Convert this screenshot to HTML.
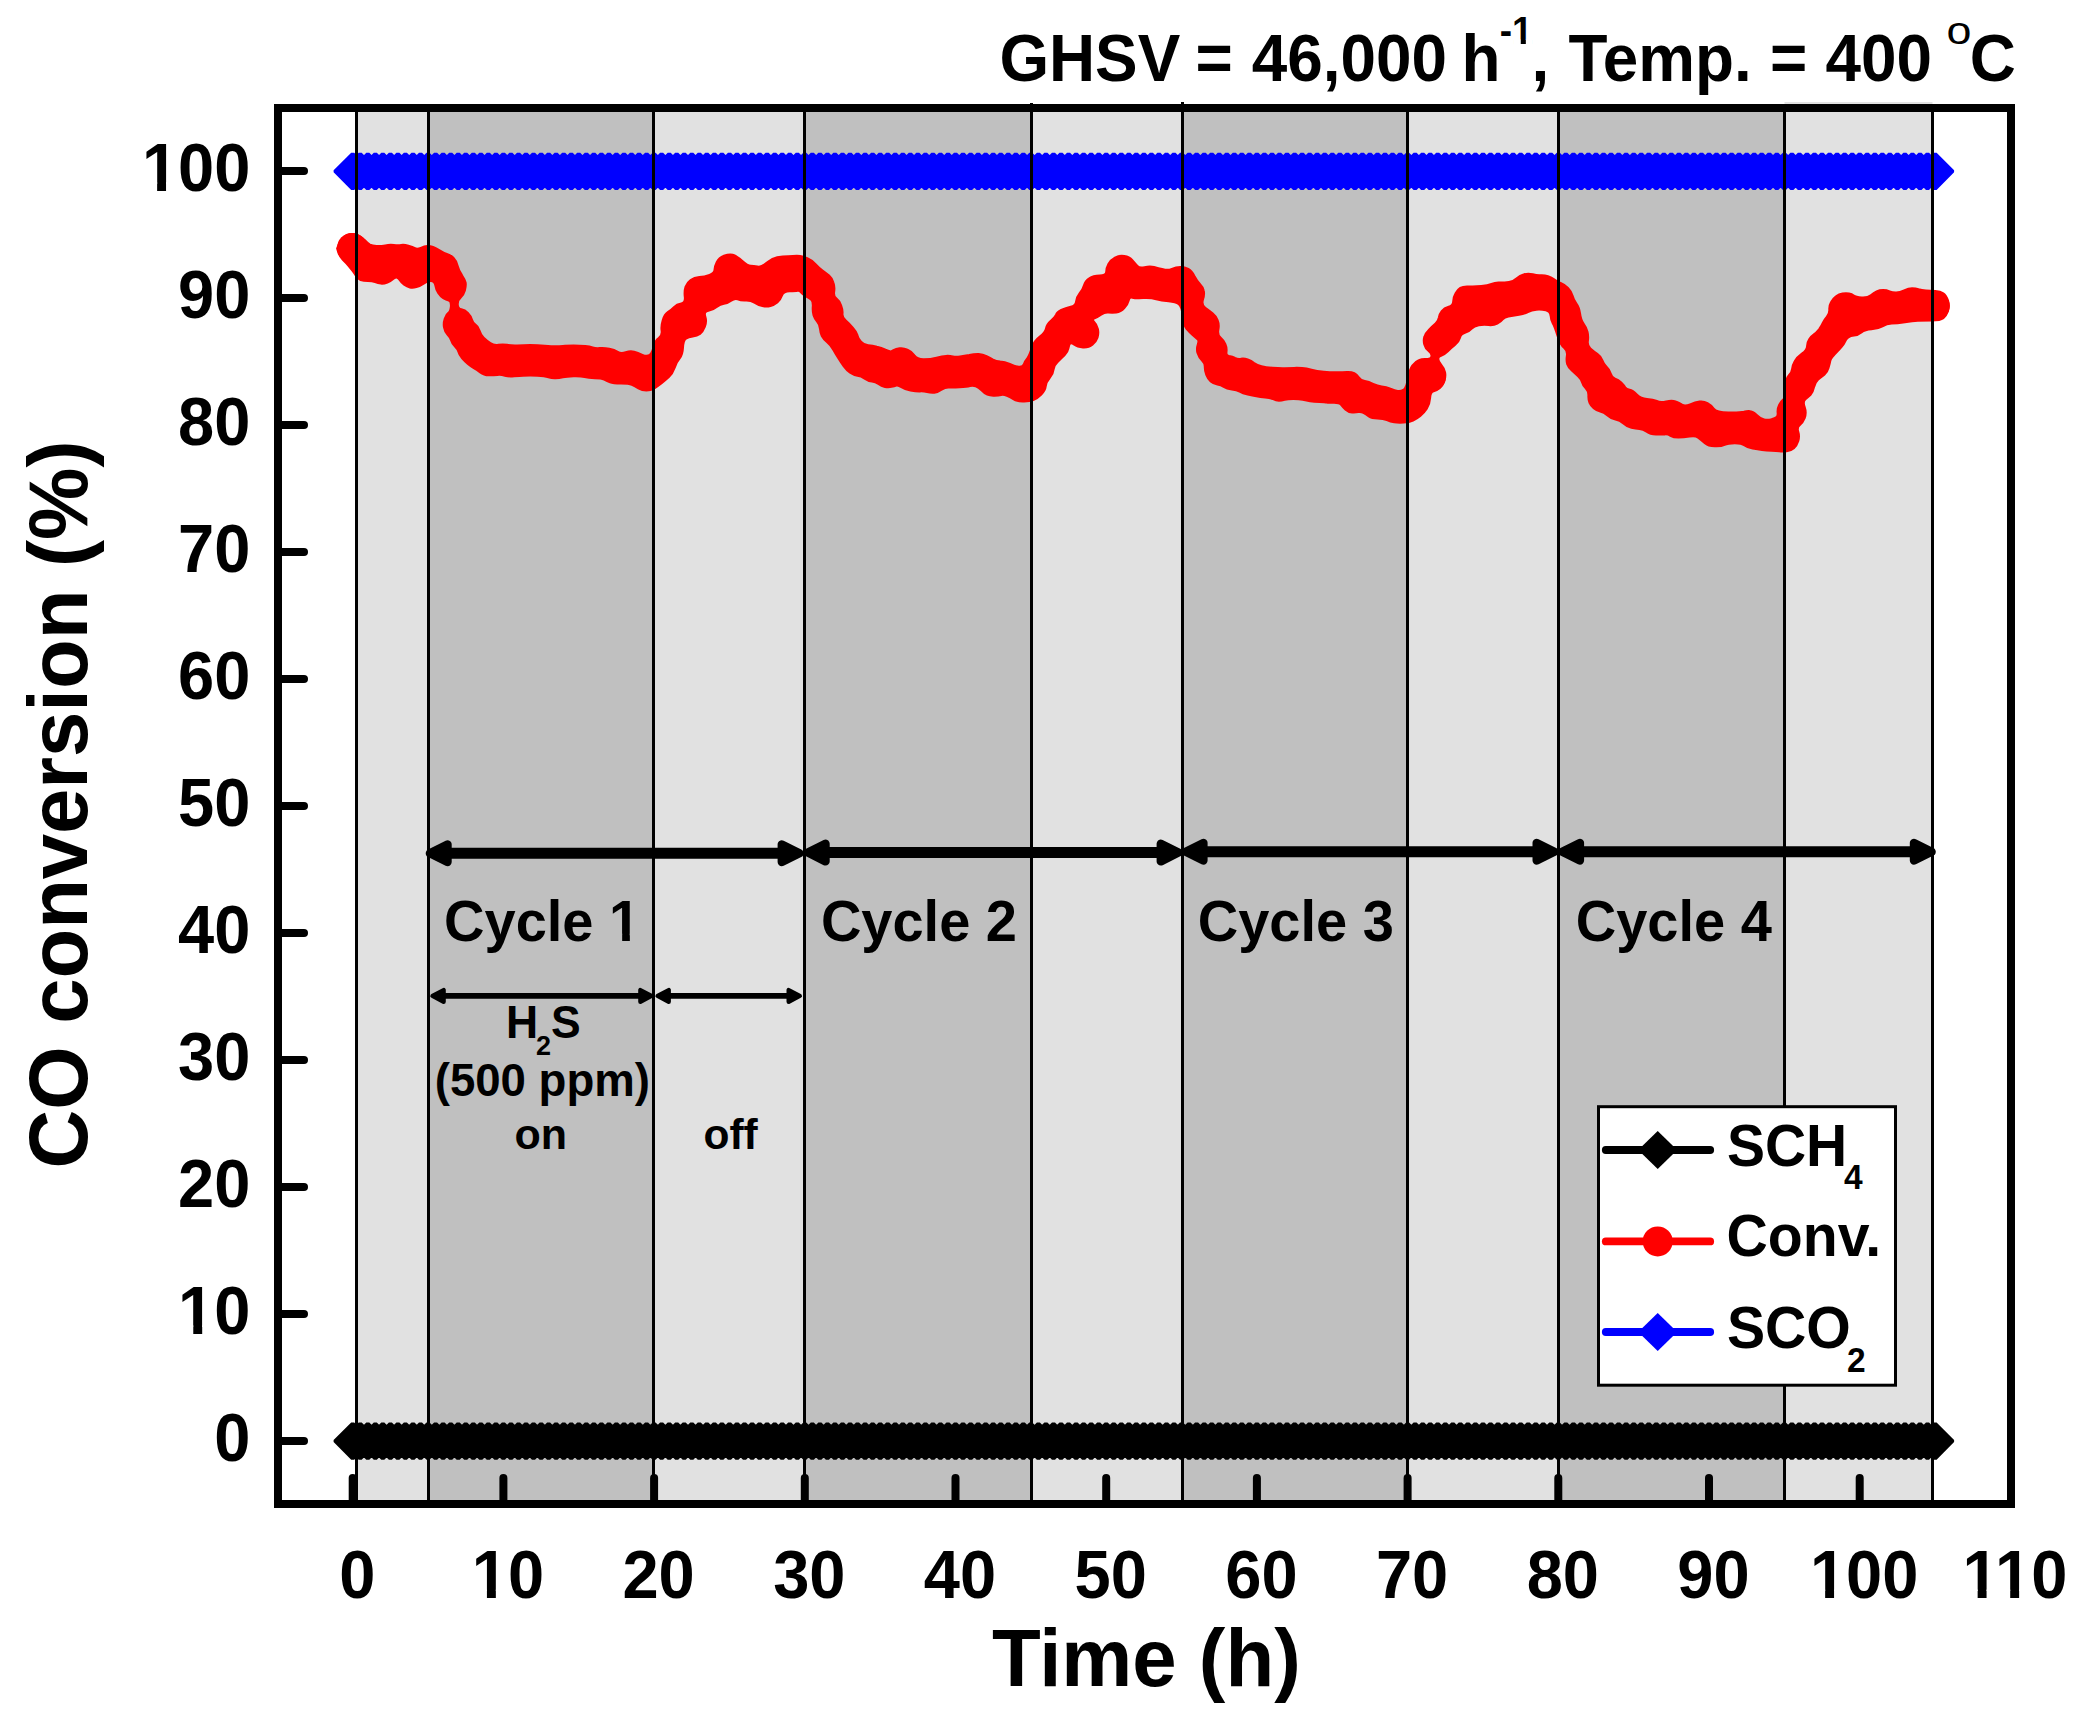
<!DOCTYPE html>
<html lang="en"><head><meta charset="utf-8"><title>CO conversion vs time</title>
<style>html,body{margin:0;padding:0;background:#fff}body{width:2090px;height:1724px;overflow:hidden}svg{display:block}</style>
</head><body>
<svg width="2090" height="1724" viewBox="0 0 2090 1724" font-family="'Liberation Sans', sans-serif" font-weight="bold" fill="#000">
<rect x="0" y="0" width="2090" height="1724" fill="#fff"/>
<g id="bands">
<rect x="356.5" y="108" width="72.0" height="1396" fill="#e1e1e1"/>
<rect x="428.5" y="108" width="225.0" height="1396" fill="#c0c0c0"/>
<rect x="653.5" y="108" width="151.0" height="1396" fill="#e1e1e1"/>
<rect x="804.5" y="108" width="227.0" height="1396" fill="#c0c0c0"/>
<rect x="1031.5" y="108" width="151.0" height="1396" fill="#e1e1e1"/>
<rect x="1182.5" y="108" width="225.0" height="1396" fill="#c0c0c0"/>
<rect x="1407.5" y="108" width="151.0" height="1396" fill="#e1e1e1"/>
<rect x="1558.5" y="108" width="226.0" height="1396" fill="#c0c0c0"/>
<rect x="1784.5" y="102" width="148.0" height="1402" fill="#e1e1e1"/>
</g>
<g id="ticks" stroke="#000" stroke-width="8" stroke-linecap="round">
<line x1="352.7" y1="1500" x2="352.7" y2="1478"/>
<line x1="503.4" y1="1500" x2="503.4" y2="1478"/>
<line x1="654.1" y1="1500" x2="654.1" y2="1478"/>
<line x1="804.8" y1="1500" x2="804.8" y2="1478"/>
<line x1="955.5" y1="1500" x2="955.5" y2="1478"/>
<line x1="1106.2" y1="1500" x2="1106.2" y2="1478"/>
<line x1="1256.9" y1="1500" x2="1256.9" y2="1478"/>
<line x1="1407.6" y1="1500" x2="1407.6" y2="1478"/>
<line x1="1558.3" y1="1500" x2="1558.3" y2="1478"/>
<line x1="1709.0" y1="1500" x2="1709.0" y2="1478"/>
<line x1="1859.7" y1="1500" x2="1859.7" y2="1478"/>
<line x1="282" y1="1441.1" x2="304" y2="1441.1"/>
<line x1="282" y1="1314.1" x2="304" y2="1314.1"/>
<line x1="282" y1="1187.1" x2="304" y2="1187.1"/>
<line x1="282" y1="1060.0" x2="304" y2="1060.0"/>
<line x1="282" y1="933.0" x2="304" y2="933.0"/>
<line x1="282" y1="806.0" x2="304" y2="806.0"/>
<line x1="282" y1="679.0" x2="304" y2="679.0"/>
<line x1="282" y1="552.0" x2="304" y2="552.0"/>
<line x1="282" y1="424.9" x2="304" y2="424.9"/>
<line x1="282" y1="297.9" x2="304" y2="297.9"/>
<line x1="282" y1="170.9" x2="304" y2="170.9"/>
</g>
<g fill="#000" stroke="#000">
<line x1="352.7" y1="1441.0" x2="1935.1" y2="1441.0" stroke-width="8"/>
<path stroke="none" d="M333.6 1440.0L351.2 1422.4L354.2 1422.4L371.8 1440.0L371.8 1442.0L354.2 1459.7L351.2 1459.7L333.6 1442.0ZM341.2 1440.0L358.7 1422.4L361.7 1422.4L379.3 1440.0L379.3 1442.0L361.7 1459.7L358.7 1459.7L341.2 1442.0ZM348.7 1440.0L366.3 1422.4L369.3 1422.4L386.8 1440.0L386.8 1442.0L369.3 1459.7L366.3 1459.7L348.7 1442.0ZM356.3 1440.0L373.8 1422.4L376.8 1422.4L394.4 1440.0L394.4 1442.0L376.8 1459.7L373.8 1459.7L356.3 1442.0ZM363.8 1440.0L381.3 1422.4L384.3 1422.4L401.9 1440.0L401.9 1442.0L384.3 1459.7L381.3 1459.7L363.8 1442.0ZM371.3 1440.0L388.9 1422.4L391.9 1422.4L409.4 1440.0L409.4 1442.0L391.9 1459.7L388.9 1459.7L371.3 1442.0ZM378.9 1440.0L396.4 1422.4L399.4 1422.4L417.0 1440.0L417.0 1442.0L399.4 1459.7L396.4 1459.7L378.9 1442.0ZM386.4 1440.0L403.9 1422.4L406.9 1422.4L424.5 1440.0L424.5 1442.0L406.9 1459.7L403.9 1459.7L386.4 1442.0ZM393.9 1440.0L411.5 1422.4L414.5 1422.4L432.0 1440.0L432.0 1442.0L414.5 1459.7L411.5 1459.7L393.9 1442.0ZM401.5 1440.0L419.0 1422.4L422.0 1422.4L439.6 1440.0L439.6 1442.0L422.0 1459.7L419.0 1459.7L401.5 1442.0ZM409.0 1440.0L426.5 1422.4L429.5 1422.4L447.1 1440.0L447.1 1442.0L429.5 1459.7L426.5 1459.7L409.0 1442.0ZM416.5 1440.0L434.1 1422.4L437.1 1422.4L454.6 1440.0L454.6 1442.0L437.1 1459.7L434.1 1459.7L416.5 1442.0ZM424.1 1440.0L441.6 1422.4L444.6 1422.4L462.2 1440.0L462.2 1442.0L444.6 1459.7L441.6 1459.7L424.1 1442.0ZM431.6 1440.0L449.2 1422.4L452.2 1422.4L469.7 1440.0L469.7 1442.0L452.2 1459.7L449.2 1459.7L431.6 1442.0ZM439.1 1440.0L456.7 1422.4L459.7 1422.4L477.2 1440.0L477.2 1442.0L459.7 1459.7L456.7 1459.7L439.1 1442.0ZM446.7 1440.0L464.2 1422.4L467.2 1422.4L484.8 1440.0L484.8 1442.0L467.2 1459.7L464.2 1459.7L446.7 1442.0ZM454.2 1440.0L471.8 1422.4L474.8 1422.4L492.3 1440.0L492.3 1442.0L474.8 1459.7L471.8 1459.7L454.2 1442.0ZM461.7 1440.0L479.3 1422.4L482.3 1422.4L499.8 1440.0L499.8 1442.0L482.3 1459.7L479.3 1459.7L461.7 1442.0ZM469.3 1440.0L486.8 1422.4L489.8 1422.4L507.4 1440.0L507.4 1442.0L489.8 1459.7L486.8 1459.7L469.3 1442.0ZM476.8 1440.0L494.4 1422.4L497.4 1422.4L514.9 1440.0L514.9 1442.0L497.4 1459.7L494.4 1459.7L476.8 1442.0ZM484.3 1440.0L501.9 1422.4L504.9 1422.4L522.4 1440.0L522.4 1442.0L504.9 1459.7L501.9 1459.7L484.3 1442.0ZM491.9 1440.0L509.4 1422.4L512.4 1422.4L530.0 1440.0L530.0 1442.0L512.4 1459.7L509.4 1459.7L491.9 1442.0ZM499.4 1440.0L517.0 1422.4L520.0 1422.4L537.5 1440.0L537.5 1442.0L520.0 1459.7L517.0 1459.7L499.4 1442.0ZM507.0 1440.0L524.5 1422.4L527.5 1422.4L545.1 1440.0L545.1 1442.0L527.5 1459.7L524.5 1459.7L507.0 1442.0ZM514.5 1440.0L532.0 1422.4L535.0 1422.4L552.6 1440.0L552.6 1442.0L535.0 1459.7L532.0 1459.7L514.5 1442.0ZM522.0 1440.0L539.6 1422.4L542.6 1422.4L560.1 1440.0L560.1 1442.0L542.6 1459.7L539.6 1459.7L522.0 1442.0ZM529.6 1440.0L547.1 1422.4L550.1 1422.4L567.7 1440.0L567.7 1442.0L550.1 1459.7L547.1 1459.7L529.6 1442.0ZM537.1 1440.0L554.6 1422.4L557.6 1422.4L575.2 1440.0L575.2 1442.0L557.6 1459.7L554.6 1459.7L537.1 1442.0ZM544.6 1440.0L562.2 1422.4L565.2 1422.4L582.7 1440.0L582.7 1442.0L565.2 1459.7L562.2 1459.7L544.6 1442.0ZM552.2 1440.0L569.7 1422.4L572.7 1422.4L590.3 1440.0L590.3 1442.0L572.7 1459.7L569.7 1459.7L552.2 1442.0ZM559.7 1440.0L577.2 1422.4L580.2 1422.4L597.8 1440.0L597.8 1442.0L580.2 1459.7L577.2 1459.7L559.7 1442.0ZM567.2 1440.0L584.8 1422.4L587.8 1422.4L605.3 1440.0L605.3 1442.0L587.8 1459.7L584.8 1459.7L567.2 1442.0ZM574.8 1440.0L592.3 1422.4L595.3 1422.4L612.9 1440.0L612.9 1442.0L595.3 1459.7L592.3 1459.7L574.8 1442.0ZM582.3 1440.0L599.9 1422.4L602.9 1422.4L620.4 1440.0L620.4 1442.0L602.9 1459.7L599.9 1459.7L582.3 1442.0ZM589.8 1440.0L607.4 1422.4L610.4 1422.4L627.9 1440.0L627.9 1442.0L610.4 1459.7L607.4 1459.7L589.8 1442.0ZM597.4 1440.0L614.9 1422.4L617.9 1422.4L635.5 1440.0L635.5 1442.0L617.9 1459.7L614.9 1459.7L597.4 1442.0ZM604.9 1440.0L622.5 1422.4L625.5 1422.4L643.0 1440.0L643.0 1442.0L625.5 1459.7L622.5 1459.7L604.9 1442.0ZM612.4 1440.0L630.0 1422.4L633.0 1422.4L650.5 1440.0L650.5 1442.0L633.0 1459.7L630.0 1459.7L612.4 1442.0ZM620.0 1440.0L637.5 1422.4L640.5 1422.4L658.1 1440.0L658.1 1442.0L640.5 1459.7L637.5 1459.7L620.0 1442.0ZM627.5 1440.0L645.1 1422.4L648.1 1422.4L665.6 1440.0L665.6 1442.0L648.1 1459.7L645.1 1459.7L627.5 1442.0ZM635.0 1440.0L652.6 1422.4L655.6 1422.4L673.1 1440.0L673.1 1442.0L655.6 1459.7L652.6 1459.7L635.0 1442.0ZM642.6 1440.0L660.1 1422.4L663.1 1422.4L680.7 1440.0L680.7 1442.0L663.1 1459.7L660.1 1459.7L642.6 1442.0ZM650.1 1440.0L667.7 1422.4L670.7 1422.4L688.2 1440.0L688.2 1442.0L670.7 1459.7L667.7 1459.7L650.1 1442.0ZM657.7 1440.0L675.2 1422.4L678.2 1422.4L695.8 1440.0L695.8 1442.0L678.2 1459.7L675.2 1459.7L657.7 1442.0ZM665.2 1440.0L682.7 1422.4L685.7 1422.4L703.3 1440.0L703.3 1442.0L685.7 1459.7L682.7 1459.7L665.2 1442.0ZM672.7 1440.0L690.3 1422.4L693.3 1422.4L710.8 1440.0L710.8 1442.0L693.3 1459.7L690.3 1459.7L672.7 1442.0ZM680.3 1440.0L697.8 1422.4L700.8 1422.4L718.4 1440.0L718.4 1442.0L700.8 1459.7L697.8 1459.7L680.3 1442.0ZM687.8 1440.0L705.3 1422.4L708.3 1422.4L725.9 1440.0L725.9 1442.0L708.3 1459.7L705.3 1459.7L687.8 1442.0ZM695.3 1440.0L712.9 1422.4L715.9 1422.4L733.4 1440.0L733.4 1442.0L715.9 1459.7L712.9 1459.7L695.3 1442.0ZM702.9 1440.0L720.4 1422.4L723.4 1422.4L741.0 1440.0L741.0 1442.0L723.4 1459.7L720.4 1459.7L702.9 1442.0ZM710.4 1440.0L728.0 1422.4L731.0 1422.4L748.5 1440.0L748.5 1442.0L731.0 1459.7L728.0 1459.7L710.4 1442.0ZM717.9 1440.0L735.5 1422.4L738.5 1422.4L756.0 1440.0L756.0 1442.0L738.5 1459.7L735.5 1459.7L717.9 1442.0ZM725.5 1440.0L743.0 1422.4L746.0 1422.4L763.6 1440.0L763.6 1442.0L746.0 1459.7L743.0 1459.7L725.5 1442.0ZM733.0 1440.0L750.6 1422.4L753.6 1422.4L771.1 1440.0L771.1 1442.0L753.6 1459.7L750.6 1459.7L733.0 1442.0ZM740.5 1440.0L758.1 1422.4L761.1 1422.4L778.6 1440.0L778.6 1442.0L761.1 1459.7L758.1 1459.7L740.5 1442.0ZM748.1 1440.0L765.6 1422.4L768.6 1422.4L786.2 1440.0L786.2 1442.0L768.6 1459.7L765.6 1459.7L748.1 1442.0ZM755.6 1440.0L773.2 1422.4L776.2 1422.4L793.7 1440.0L793.7 1442.0L776.2 1459.7L773.2 1459.7L755.6 1442.0ZM763.1 1440.0L780.7 1422.4L783.7 1422.4L801.2 1440.0L801.2 1442.0L783.7 1459.7L780.7 1459.7L763.1 1442.0ZM770.7 1440.0L788.2 1422.4L791.2 1422.4L808.8 1440.0L808.8 1442.0L791.2 1459.7L788.2 1459.7L770.7 1442.0ZM778.2 1440.0L795.8 1422.4L798.8 1422.4L816.3 1440.0L816.3 1442.0L798.8 1459.7L795.8 1459.7L778.2 1442.0ZM785.8 1440.0L803.3 1422.4L806.3 1422.4L823.8 1440.0L823.8 1442.0L806.3 1459.7L803.3 1459.7L785.8 1442.0ZM793.3 1440.0L810.8 1422.4L813.8 1422.4L831.4 1440.0L831.4 1442.0L813.8 1459.7L810.8 1459.7L793.3 1442.0ZM800.8 1440.0L818.4 1422.4L821.4 1422.4L838.9 1440.0L838.9 1442.0L821.4 1459.7L818.4 1459.7L800.8 1442.0ZM808.4 1440.0L825.9 1422.4L828.9 1422.4L846.5 1440.0L846.5 1442.0L828.9 1459.7L825.9 1459.7L808.4 1442.0ZM815.9 1440.0L833.4 1422.4L836.4 1422.4L854.0 1440.0L854.0 1442.0L836.4 1459.7L833.4 1459.7L815.9 1442.0ZM823.4 1440.0L841.0 1422.4L844.0 1422.4L861.5 1440.0L861.5 1442.0L844.0 1459.7L841.0 1459.7L823.4 1442.0ZM831.0 1440.0L848.5 1422.4L851.5 1422.4L869.1 1440.0L869.1 1442.0L851.5 1459.7L848.5 1459.7L831.0 1442.0ZM838.5 1440.0L856.0 1422.4L859.0 1422.4L876.6 1440.0L876.6 1442.0L859.0 1459.7L856.0 1459.7L838.5 1442.0ZM846.0 1440.0L863.6 1422.4L866.6 1422.4L884.1 1440.0L884.1 1442.0L866.6 1459.7L863.6 1459.7L846.0 1442.0ZM853.6 1440.0L871.1 1422.4L874.1 1422.4L891.7 1440.0L891.7 1442.0L874.1 1459.7L871.1 1459.7L853.6 1442.0ZM861.1 1440.0L878.7 1422.4L881.7 1422.4L899.2 1440.0L899.2 1442.0L881.7 1459.7L878.7 1459.7L861.1 1442.0ZM868.6 1440.0L886.2 1422.4L889.2 1422.4L906.7 1440.0L906.7 1442.0L889.2 1459.7L886.2 1459.7L868.6 1442.0ZM876.2 1440.0L893.7 1422.4L896.7 1422.4L914.3 1440.0L914.3 1442.0L896.7 1459.7L893.7 1459.7L876.2 1442.0ZM883.7 1440.0L901.3 1422.4L904.3 1422.4L921.8 1440.0L921.8 1442.0L904.3 1459.7L901.3 1459.7L883.7 1442.0ZM891.2 1440.0L908.8 1422.4L911.8 1422.4L929.3 1440.0L929.3 1442.0L911.8 1459.7L908.8 1459.7L891.2 1442.0ZM898.8 1440.0L916.3 1422.4L919.3 1422.4L936.9 1440.0L936.9 1442.0L919.3 1459.7L916.3 1459.7L898.8 1442.0ZM906.3 1440.0L923.9 1422.4L926.9 1422.4L944.4 1440.0L944.4 1442.0L926.9 1459.7L923.9 1459.7L906.3 1442.0ZM913.8 1440.0L931.4 1422.4L934.4 1422.4L951.9 1440.0L951.9 1442.0L934.4 1459.7L931.4 1459.7L913.8 1442.0ZM921.4 1440.0L938.9 1422.4L941.9 1422.4L959.5 1440.0L959.5 1442.0L941.9 1459.7L938.9 1459.7L921.4 1442.0ZM928.9 1440.0L946.5 1422.4L949.5 1422.4L967.0 1440.0L967.0 1442.0L949.5 1459.7L946.5 1459.7L928.9 1442.0ZM936.5 1440.0L954.0 1422.4L957.0 1422.4L974.5 1440.0L974.5 1442.0L957.0 1459.7L954.0 1459.7L936.5 1442.0ZM944.0 1440.0L961.5 1422.4L964.5 1422.4L982.1 1440.0L982.1 1442.0L964.5 1459.7L961.5 1459.7L944.0 1442.0ZM951.5 1440.0L969.1 1422.4L972.1 1422.4L989.6 1440.0L989.6 1442.0L972.1 1459.7L969.1 1459.7L951.5 1442.0ZM959.1 1440.0L976.6 1422.4L979.6 1422.4L997.2 1440.0L997.2 1442.0L979.6 1459.7L976.6 1459.7L959.1 1442.0ZM966.6 1440.0L984.1 1422.4L987.1 1422.4L1004.7 1440.0L1004.7 1442.0L987.1 1459.7L984.1 1459.7L966.6 1442.0ZM974.1 1440.0L991.7 1422.4L994.7 1422.4L1012.2 1440.0L1012.2 1442.0L994.7 1459.7L991.7 1459.7L974.1 1442.0ZM981.7 1440.0L999.2 1422.4L1002.2 1422.4L1019.8 1440.0L1019.8 1442.0L1002.2 1459.7L999.2 1459.7L981.7 1442.0ZM989.2 1440.0L1006.7 1422.4L1009.7 1422.4L1027.3 1440.0L1027.3 1442.0L1009.7 1459.7L1006.7 1459.7L989.2 1442.0ZM996.7 1440.0L1014.3 1422.4L1017.3 1422.4L1034.8 1440.0L1034.8 1442.0L1017.3 1459.7L1014.3 1459.7L996.7 1442.0ZM1004.3 1440.0L1021.8 1422.4L1024.8 1422.4L1042.4 1440.0L1042.4 1442.0L1024.8 1459.7L1021.8 1459.7L1004.3 1442.0ZM1011.8 1440.0L1029.3 1422.4L1032.3 1422.4L1049.9 1440.0L1049.9 1442.0L1032.3 1459.7L1029.3 1459.7L1011.8 1442.0ZM1019.3 1440.0L1036.9 1422.4L1039.9 1422.4L1057.4 1440.0L1057.4 1442.0L1039.9 1459.7L1036.9 1459.7L1019.3 1442.0ZM1026.9 1440.0L1044.4 1422.4L1047.4 1422.4L1065.0 1440.0L1065.0 1442.0L1047.4 1459.7L1044.4 1459.7L1026.9 1442.0ZM1034.4 1440.0L1052.0 1422.4L1055.0 1422.4L1072.5 1440.0L1072.5 1442.0L1055.0 1459.7L1052.0 1459.7L1034.4 1442.0ZM1041.9 1440.0L1059.5 1422.4L1062.5 1422.4L1080.0 1440.0L1080.0 1442.0L1062.5 1459.7L1059.5 1459.7L1041.9 1442.0ZM1049.5 1440.0L1067.0 1422.4L1070.0 1422.4L1087.6 1440.0L1087.6 1442.0L1070.0 1459.7L1067.0 1459.7L1049.5 1442.0ZM1057.0 1440.0L1074.6 1422.4L1077.6 1422.4L1095.1 1440.0L1095.1 1442.0L1077.6 1459.7L1074.6 1459.7L1057.0 1442.0ZM1064.5 1440.0L1082.1 1422.4L1085.1 1422.4L1102.6 1440.0L1102.6 1442.0L1085.1 1459.7L1082.1 1459.7L1064.5 1442.0ZM1072.1 1440.0L1089.6 1422.4L1092.6 1422.4L1110.2 1440.0L1110.2 1442.0L1092.6 1459.7L1089.6 1459.7L1072.1 1442.0ZM1079.6 1440.0L1097.2 1422.4L1100.2 1422.4L1117.7 1440.0L1117.7 1442.0L1100.2 1459.7L1097.2 1459.7L1079.6 1442.0ZM1087.2 1440.0L1104.7 1422.4L1107.7 1422.4L1125.2 1440.0L1125.2 1442.0L1107.7 1459.7L1104.7 1459.7L1087.2 1442.0ZM1094.7 1440.0L1112.2 1422.4L1115.2 1422.4L1132.8 1440.0L1132.8 1442.0L1115.2 1459.7L1112.2 1459.7L1094.7 1442.0ZM1102.2 1440.0L1119.8 1422.4L1122.8 1422.4L1140.3 1440.0L1140.3 1442.0L1122.8 1459.7L1119.8 1459.7L1102.2 1442.0ZM1109.8 1440.0L1127.3 1422.4L1130.3 1422.4L1147.9 1440.0L1147.9 1442.0L1130.3 1459.7L1127.3 1459.7L1109.8 1442.0ZM1117.3 1440.0L1134.8 1422.4L1137.8 1422.4L1155.4 1440.0L1155.4 1442.0L1137.8 1459.7L1134.8 1459.7L1117.3 1442.0ZM1124.8 1440.0L1142.4 1422.4L1145.4 1422.4L1162.9 1440.0L1162.9 1442.0L1145.4 1459.7L1142.4 1459.7L1124.8 1442.0ZM1132.4 1440.0L1149.9 1422.4L1152.9 1422.4L1170.5 1440.0L1170.5 1442.0L1152.9 1459.7L1149.9 1459.7L1132.4 1442.0ZM1139.9 1440.0L1157.4 1422.4L1160.4 1422.4L1178.0 1440.0L1178.0 1442.0L1160.4 1459.7L1157.4 1459.7L1139.9 1442.0ZM1147.4 1440.0L1165.0 1422.4L1168.0 1422.4L1185.5 1440.0L1185.5 1442.0L1168.0 1459.7L1165.0 1459.7L1147.4 1442.0ZM1155.0 1440.0L1172.5 1422.4L1175.5 1422.4L1193.1 1440.0L1193.1 1442.0L1175.5 1459.7L1172.5 1459.7L1155.0 1442.0ZM1162.5 1440.0L1180.0 1422.4L1183.0 1422.4L1200.6 1440.0L1200.6 1442.0L1183.0 1459.7L1180.0 1459.7L1162.5 1442.0ZM1170.0 1440.0L1187.6 1422.4L1190.6 1422.4L1208.1 1440.0L1208.1 1442.0L1190.6 1459.7L1187.6 1459.7L1170.0 1442.0ZM1177.6 1440.0L1195.1 1422.4L1198.1 1422.4L1215.7 1440.0L1215.7 1442.0L1198.1 1459.7L1195.1 1459.7L1177.6 1442.0ZM1185.1 1440.0L1202.7 1422.4L1205.7 1422.4L1223.2 1440.0L1223.2 1442.0L1205.7 1459.7L1202.7 1459.7L1185.1 1442.0ZM1192.6 1440.0L1210.2 1422.4L1213.2 1422.4L1230.7 1440.0L1230.7 1442.0L1213.2 1459.7L1210.2 1459.7L1192.6 1442.0ZM1200.2 1440.0L1217.7 1422.4L1220.7 1422.4L1238.3 1440.0L1238.3 1442.0L1220.7 1459.7L1217.7 1459.7L1200.2 1442.0ZM1207.7 1440.0L1225.3 1422.4L1228.3 1422.4L1245.8 1440.0L1245.8 1442.0L1228.3 1459.7L1225.3 1459.7L1207.7 1442.0ZM1215.2 1440.0L1232.8 1422.4L1235.8 1422.4L1253.3 1440.0L1253.3 1442.0L1235.8 1459.7L1232.8 1459.7L1215.2 1442.0ZM1222.8 1440.0L1240.3 1422.4L1243.3 1422.4L1260.9 1440.0L1260.9 1442.0L1243.3 1459.7L1240.3 1459.7L1222.8 1442.0ZM1230.3 1440.0L1247.9 1422.4L1250.9 1422.4L1268.4 1440.0L1268.4 1442.0L1250.9 1459.7L1247.9 1459.7L1230.3 1442.0ZM1237.9 1440.0L1255.4 1422.4L1258.4 1422.4L1276.0 1440.0L1276.0 1442.0L1258.4 1459.7L1255.4 1459.7L1237.9 1442.0ZM1245.4 1440.0L1262.9 1422.4L1265.9 1422.4L1283.5 1440.0L1283.5 1442.0L1265.9 1459.7L1262.9 1459.7L1245.4 1442.0ZM1252.9 1440.0L1270.5 1422.4L1273.5 1422.4L1291.0 1440.0L1291.0 1442.0L1273.5 1459.7L1270.5 1459.7L1252.9 1442.0ZM1260.5 1440.0L1278.0 1422.4L1281.0 1422.4L1298.6 1440.0L1298.6 1442.0L1281.0 1459.7L1278.0 1459.7L1260.5 1442.0ZM1268.0 1440.0L1285.5 1422.4L1288.5 1422.4L1306.1 1440.0L1306.1 1442.0L1288.5 1459.7L1285.5 1459.7L1268.0 1442.0ZM1275.5 1440.0L1293.1 1422.4L1296.1 1422.4L1313.6 1440.0L1313.6 1442.0L1296.1 1459.7L1293.1 1459.7L1275.5 1442.0ZM1283.1 1440.0L1300.6 1422.4L1303.6 1422.4L1321.2 1440.0L1321.2 1442.0L1303.6 1459.7L1300.6 1459.7L1283.1 1442.0ZM1290.6 1440.0L1308.1 1422.4L1311.1 1422.4L1328.7 1440.0L1328.7 1442.0L1311.1 1459.7L1308.1 1459.7L1290.6 1442.0ZM1298.1 1440.0L1315.7 1422.4L1318.7 1422.4L1336.2 1440.0L1336.2 1442.0L1318.7 1459.7L1315.7 1459.7L1298.1 1442.0ZM1305.7 1440.0L1323.2 1422.4L1326.2 1422.4L1343.8 1440.0L1343.8 1442.0L1326.2 1459.7L1323.2 1459.7L1305.7 1442.0ZM1313.2 1440.0L1330.8 1422.4L1333.8 1422.4L1351.3 1440.0L1351.3 1442.0L1333.8 1459.7L1330.8 1459.7L1313.2 1442.0ZM1320.7 1440.0L1338.3 1422.4L1341.3 1422.4L1358.8 1440.0L1358.8 1442.0L1341.3 1459.7L1338.3 1459.7L1320.7 1442.0ZM1328.3 1440.0L1345.8 1422.4L1348.8 1422.4L1366.4 1440.0L1366.4 1442.0L1348.8 1459.7L1345.8 1459.7L1328.3 1442.0ZM1335.8 1440.0L1353.4 1422.4L1356.4 1422.4L1373.9 1440.0L1373.9 1442.0L1356.4 1459.7L1353.4 1459.7L1335.8 1442.0ZM1343.3 1440.0L1360.9 1422.4L1363.9 1422.4L1381.4 1440.0L1381.4 1442.0L1363.9 1459.7L1360.9 1459.7L1343.3 1442.0ZM1350.9 1440.0L1368.4 1422.4L1371.4 1422.4L1389.0 1440.0L1389.0 1442.0L1371.4 1459.7L1368.4 1459.7L1350.9 1442.0ZM1358.4 1440.0L1376.0 1422.4L1379.0 1422.4L1396.5 1440.0L1396.5 1442.0L1379.0 1459.7L1376.0 1459.7L1358.4 1442.0ZM1365.9 1440.0L1383.5 1422.4L1386.5 1422.4L1404.0 1440.0L1404.0 1442.0L1386.5 1459.7L1383.5 1459.7L1365.9 1442.0ZM1373.5 1440.0L1391.0 1422.4L1394.0 1422.4L1411.6 1440.0L1411.6 1442.0L1394.0 1459.7L1391.0 1459.7L1373.5 1442.0ZM1381.0 1440.0L1398.6 1422.4L1401.6 1422.4L1419.1 1440.0L1419.1 1442.0L1401.6 1459.7L1398.6 1459.7L1381.0 1442.0ZM1388.6 1440.0L1406.1 1422.4L1409.1 1422.4L1426.7 1440.0L1426.7 1442.0L1409.1 1459.7L1406.1 1459.7L1388.6 1442.0ZM1396.1 1440.0L1413.6 1422.4L1416.6 1422.4L1434.2 1440.0L1434.2 1442.0L1416.6 1459.7L1413.6 1459.7L1396.1 1442.0ZM1403.6 1440.0L1421.2 1422.4L1424.2 1422.4L1441.7 1440.0L1441.7 1442.0L1424.2 1459.7L1421.2 1459.7L1403.6 1442.0ZM1411.2 1440.0L1428.7 1422.4L1431.7 1422.4L1449.3 1440.0L1449.3 1442.0L1431.7 1459.7L1428.7 1459.7L1411.2 1442.0ZM1418.7 1440.0L1436.2 1422.4L1439.2 1422.4L1456.8 1440.0L1456.8 1442.0L1439.2 1459.7L1436.2 1459.7L1418.7 1442.0ZM1426.2 1440.0L1443.8 1422.4L1446.8 1422.4L1464.3 1440.0L1464.3 1442.0L1446.8 1459.7L1443.8 1459.7L1426.2 1442.0ZM1433.8 1440.0L1451.3 1422.4L1454.3 1422.4L1471.9 1440.0L1471.9 1442.0L1454.3 1459.7L1451.3 1459.7L1433.8 1442.0ZM1441.3 1440.0L1458.8 1422.4L1461.8 1422.4L1479.4 1440.0L1479.4 1442.0L1461.8 1459.7L1458.8 1459.7L1441.3 1442.0ZM1448.8 1440.0L1466.4 1422.4L1469.4 1422.4L1486.9 1440.0L1486.9 1442.0L1469.4 1459.7L1466.4 1459.7L1448.8 1442.0ZM1456.4 1440.0L1473.9 1422.4L1476.9 1422.4L1494.5 1440.0L1494.5 1442.0L1476.9 1459.7L1473.9 1459.7L1456.4 1442.0ZM1463.9 1440.0L1481.5 1422.4L1484.5 1422.4L1502.0 1440.0L1502.0 1442.0L1484.5 1459.7L1481.5 1459.7L1463.9 1442.0ZM1471.4 1440.0L1489.0 1422.4L1492.0 1422.4L1509.5 1440.0L1509.5 1442.0L1492.0 1459.7L1489.0 1459.7L1471.4 1442.0ZM1479.0 1440.0L1496.5 1422.4L1499.5 1422.4L1517.1 1440.0L1517.1 1442.0L1499.5 1459.7L1496.5 1459.7L1479.0 1442.0ZM1486.5 1440.0L1504.1 1422.4L1507.1 1422.4L1524.6 1440.0L1524.6 1442.0L1507.1 1459.7L1504.1 1459.7L1486.5 1442.0ZM1494.0 1440.0L1511.6 1422.4L1514.6 1422.4L1532.1 1440.0L1532.1 1442.0L1514.6 1459.7L1511.6 1459.7L1494.0 1442.0ZM1501.6 1440.0L1519.1 1422.4L1522.1 1422.4L1539.7 1440.0L1539.7 1442.0L1522.1 1459.7L1519.1 1459.7L1501.6 1442.0ZM1509.1 1440.0L1526.7 1422.4L1529.7 1422.4L1547.2 1440.0L1547.2 1442.0L1529.7 1459.7L1526.7 1459.7L1509.1 1442.0ZM1516.6 1440.0L1534.2 1422.4L1537.2 1422.4L1554.7 1440.0L1554.7 1442.0L1537.2 1459.7L1534.2 1459.7L1516.6 1442.0ZM1524.2 1440.0L1541.7 1422.4L1544.7 1422.4L1562.3 1440.0L1562.3 1442.0L1544.7 1459.7L1541.7 1459.7L1524.2 1442.0ZM1531.7 1440.0L1549.3 1422.4L1552.3 1422.4L1569.8 1440.0L1569.8 1442.0L1552.3 1459.7L1549.3 1459.7L1531.7 1442.0ZM1539.2 1440.0L1556.8 1422.4L1559.8 1422.4L1577.3 1440.0L1577.3 1442.0L1559.8 1459.7L1556.8 1459.7L1539.2 1442.0ZM1546.8 1440.0L1564.3 1422.4L1567.3 1422.4L1584.9 1440.0L1584.9 1442.0L1567.3 1459.7L1564.3 1459.7L1546.8 1442.0ZM1554.3 1440.0L1571.9 1422.4L1574.9 1422.4L1592.4 1440.0L1592.4 1442.0L1574.9 1459.7L1571.9 1459.7L1554.3 1442.0ZM1561.9 1440.0L1579.4 1422.4L1582.4 1422.4L1600.0 1440.0L1600.0 1442.0L1582.4 1459.7L1579.4 1459.7L1561.9 1442.0ZM1569.4 1440.0L1586.9 1422.4L1589.9 1422.4L1607.5 1440.0L1607.5 1442.0L1589.9 1459.7L1586.9 1459.7L1569.4 1442.0ZM1576.9 1440.0L1594.5 1422.4L1597.5 1422.4L1615.0 1440.0L1615.0 1442.0L1597.5 1459.7L1594.5 1459.7L1576.9 1442.0ZM1584.5 1440.0L1602.0 1422.4L1605.0 1422.4L1622.6 1440.0L1622.6 1442.0L1605.0 1459.7L1602.0 1459.7L1584.5 1442.0ZM1592.0 1440.0L1609.5 1422.4L1612.5 1422.4L1630.1 1440.0L1630.1 1442.0L1612.5 1459.7L1609.5 1459.7L1592.0 1442.0ZM1599.5 1440.0L1617.1 1422.4L1620.1 1422.4L1637.6 1440.0L1637.6 1442.0L1620.1 1459.7L1617.1 1459.7L1599.5 1442.0ZM1607.1 1440.0L1624.6 1422.4L1627.6 1422.4L1645.2 1440.0L1645.2 1442.0L1627.6 1459.7L1624.6 1459.7L1607.1 1442.0ZM1614.6 1440.0L1632.2 1422.4L1635.2 1422.4L1652.7 1440.0L1652.7 1442.0L1635.2 1459.7L1632.2 1459.7L1614.6 1442.0ZM1622.1 1440.0L1639.7 1422.4L1642.7 1422.4L1660.2 1440.0L1660.2 1442.0L1642.7 1459.7L1639.7 1459.7L1622.1 1442.0ZM1629.7 1440.0L1647.2 1422.4L1650.2 1422.4L1667.8 1440.0L1667.8 1442.0L1650.2 1459.7L1647.2 1459.7L1629.7 1442.0ZM1637.2 1440.0L1654.8 1422.4L1657.8 1422.4L1675.3 1440.0L1675.3 1442.0L1657.8 1459.7L1654.8 1459.7L1637.2 1442.0ZM1644.7 1440.0L1662.3 1422.4L1665.3 1422.4L1682.8 1440.0L1682.8 1442.0L1665.3 1459.7L1662.3 1459.7L1644.7 1442.0ZM1652.3 1440.0L1669.8 1422.4L1672.8 1422.4L1690.4 1440.0L1690.4 1442.0L1672.8 1459.7L1669.8 1459.7L1652.3 1442.0ZM1659.8 1440.0L1677.4 1422.4L1680.4 1422.4L1697.9 1440.0L1697.9 1442.0L1680.4 1459.7L1677.4 1459.7L1659.8 1442.0ZM1667.3 1440.0L1684.9 1422.4L1687.9 1422.4L1705.4 1440.0L1705.4 1442.0L1687.9 1459.7L1684.9 1459.7L1667.3 1442.0ZM1674.9 1440.0L1692.4 1422.4L1695.4 1422.4L1713.0 1440.0L1713.0 1442.0L1695.4 1459.7L1692.4 1459.7L1674.9 1442.0ZM1682.4 1440.0L1700.0 1422.4L1703.0 1422.4L1720.5 1440.0L1720.5 1442.0L1703.0 1459.7L1700.0 1459.7L1682.4 1442.0ZM1690.0 1440.0L1707.5 1422.4L1710.5 1422.4L1728.0 1440.0L1728.0 1442.0L1710.5 1459.7L1707.5 1459.7L1690.0 1442.0ZM1697.5 1440.0L1715.0 1422.4L1718.0 1422.4L1735.6 1440.0L1735.6 1442.0L1718.0 1459.7L1715.0 1459.7L1697.5 1442.0ZM1705.0 1440.0L1722.6 1422.4L1725.6 1422.4L1743.1 1440.0L1743.1 1442.0L1725.6 1459.7L1722.6 1459.7L1705.0 1442.0ZM1712.6 1440.0L1730.1 1422.4L1733.1 1422.4L1750.7 1440.0L1750.7 1442.0L1733.1 1459.7L1730.1 1459.7L1712.6 1442.0ZM1720.1 1440.0L1737.6 1422.4L1740.6 1422.4L1758.2 1440.0L1758.2 1442.0L1740.6 1459.7L1737.6 1459.7L1720.1 1442.0ZM1727.6 1440.0L1745.2 1422.4L1748.2 1422.4L1765.7 1440.0L1765.7 1442.0L1748.2 1459.7L1745.2 1459.7L1727.6 1442.0ZM1735.2 1440.0L1752.7 1422.4L1755.7 1422.4L1773.3 1440.0L1773.3 1442.0L1755.7 1459.7L1752.7 1459.7L1735.2 1442.0ZM1742.7 1440.0L1760.2 1422.4L1763.2 1422.4L1780.8 1440.0L1780.8 1442.0L1763.2 1459.7L1760.2 1459.7L1742.7 1442.0ZM1750.2 1440.0L1767.8 1422.4L1770.8 1422.4L1788.3 1440.0L1788.3 1442.0L1770.8 1459.7L1767.8 1459.7L1750.2 1442.0ZM1757.8 1440.0L1775.3 1422.4L1778.3 1422.4L1795.9 1440.0L1795.9 1442.0L1778.3 1459.7L1775.3 1459.7L1757.8 1442.0ZM1765.3 1440.0L1782.9 1422.4L1785.9 1422.4L1803.4 1440.0L1803.4 1442.0L1785.9 1459.7L1782.9 1459.7L1765.3 1442.0ZM1772.8 1440.0L1790.4 1422.4L1793.4 1422.4L1810.9 1440.0L1810.9 1442.0L1793.4 1459.7L1790.4 1459.7L1772.8 1442.0ZM1780.4 1440.0L1797.9 1422.4L1800.9 1422.4L1818.5 1440.0L1818.5 1442.0L1800.9 1459.7L1797.9 1459.7L1780.4 1442.0ZM1787.9 1440.0L1805.5 1422.4L1808.5 1422.4L1826.0 1440.0L1826.0 1442.0L1808.5 1459.7L1805.5 1459.7L1787.9 1442.0ZM1795.4 1440.0L1813.0 1422.4L1816.0 1422.4L1833.5 1440.0L1833.5 1442.0L1816.0 1459.7L1813.0 1459.7L1795.4 1442.0ZM1803.0 1440.0L1820.5 1422.4L1823.5 1422.4L1841.1 1440.0L1841.1 1442.0L1823.5 1459.7L1820.5 1459.7L1803.0 1442.0ZM1810.5 1440.0L1828.1 1422.4L1831.1 1422.4L1848.6 1440.0L1848.6 1442.0L1831.1 1459.7L1828.1 1459.7L1810.5 1442.0ZM1818.0 1440.0L1835.6 1422.4L1838.6 1422.4L1856.1 1440.0L1856.1 1442.0L1838.6 1459.7L1835.6 1459.7L1818.0 1442.0ZM1825.6 1440.0L1843.1 1422.4L1846.1 1422.4L1863.7 1440.0L1863.7 1442.0L1846.1 1459.7L1843.1 1459.7L1825.6 1442.0ZM1833.1 1440.0L1850.7 1422.4L1853.7 1422.4L1871.2 1440.0L1871.2 1442.0L1853.7 1459.7L1850.7 1459.7L1833.1 1442.0ZM1840.7 1440.0L1858.2 1422.4L1861.2 1422.4L1878.8 1440.0L1878.8 1442.0L1861.2 1459.7L1858.2 1459.7L1840.7 1442.0ZM1848.2 1440.0L1865.7 1422.4L1868.7 1422.4L1886.3 1440.0L1886.3 1442.0L1868.7 1459.7L1865.7 1459.7L1848.2 1442.0ZM1855.7 1440.0L1873.3 1422.4L1876.3 1422.4L1893.8 1440.0L1893.8 1442.0L1876.3 1459.7L1873.3 1459.7L1855.7 1442.0ZM1863.3 1440.0L1880.8 1422.4L1883.8 1422.4L1901.4 1440.0L1901.4 1442.0L1883.8 1459.7L1880.8 1459.7L1863.3 1442.0ZM1870.8 1440.0L1888.3 1422.4L1891.3 1422.4L1908.9 1440.0L1908.9 1442.0L1891.3 1459.7L1888.3 1459.7L1870.8 1442.0ZM1878.3 1440.0L1895.9 1422.4L1898.9 1422.4L1916.4 1440.0L1916.4 1442.0L1898.9 1459.7L1895.9 1459.7L1878.3 1442.0ZM1885.9 1440.0L1903.4 1422.4L1906.4 1422.4L1924.0 1440.0L1924.0 1442.0L1906.4 1459.7L1903.4 1459.7L1885.9 1442.0ZM1893.4 1440.0L1910.9 1422.4L1913.9 1422.4L1931.5 1440.0L1931.5 1442.0L1913.9 1459.7L1910.9 1459.7L1893.4 1442.0ZM1900.9 1440.0L1918.5 1422.4L1921.5 1422.4L1939.0 1440.0L1939.0 1442.0L1921.5 1459.7L1918.5 1459.7L1900.9 1442.0ZM1908.5 1440.0L1926.0 1422.4L1929.0 1422.4L1946.6 1440.0L1946.6 1442.0L1929.0 1459.7L1926.0 1459.7L1908.5 1442.0ZM1916.0 1440.0L1933.6 1422.4L1936.6 1422.4L1954.1 1440.0L1954.1 1442.0L1936.6 1459.7L1933.6 1459.7L1916.0 1442.0Z"/>
</g>
<path id="conv" d="M337.1 248.4Q337.1 248.4 339.4 243.0Q341.7 237.5 346.8 235.2Q351.9 232.9 357.0 234.9Q362.0 236.8 364.9 240.1Q367.8 243.3 370.0 244.6Q372.2 245.8 376.5 246.0Q380.9 246.2 385.2 245.4Q389.6 244.5 393.9 245.0Q398.3 245.5 401.2 245.0Q404.1 244.5 408.4 245.7Q412.8 247.0 415.0 248.2Q417.1 249.4 420.8 247.8Q424.4 246.2 427.3 246.1Q430.2 246.0 433.1 247.0Q436.0 248.0 439.6 250.4Q443.2 252.8 446.9 253.9Q450.5 254.9 453.4 257.8Q456.3 260.7 457.6 265.8Q458.9 270.9 462.0 275.2Q465.0 279.6 465.6 282.5Q466.2 285.4 464.9 290.5Q463.5 295.5 460.6 297.7Q457.7 299.9 457.7 304.2Q457.7 308.6 461.4 309.3Q465.0 310.0 467.9 312.9Q470.8 315.8 471.9 319.5Q473.0 323.1 475.5 324.5Q478.0 326.0 479.4 330.3Q480.7 334.7 483.7 337.6Q486.7 340.5 490.4 343.0Q494.0 345.6 498.3 344.8Q502.7 344.1 507.0 344.8Q511.4 345.6 517.2 345.4Q523.0 345.1 530.2 345.1Q537.5 345.1 544.7 345.7Q552.0 346.3 555.6 346.3Q559.2 346.3 562.9 345.9Q566.5 345.6 573.7 345.6Q581.0 345.6 585.3 345.9Q589.7 346.3 592.6 347.4Q595.5 348.5 599.8 348.1Q604.2 347.7 609.3 348.8Q614.5 349.9 617.8 351.9Q621.0 353.8 625.7 352.2Q630.4 350.6 634.1 351.7Q637.7 352.8 642.4 354.8Q647.1 356.7 649.7 354.8Q652.2 352.8 653.6 346.7Q655.1 340.5 658.7 338.0Q662.3 335.4 661.6 330.7Q660.9 326.0 662.7 320.2Q664.5 314.4 667.8 312.2Q671.0 310.0 673.9 307.1Q676.8 304.2 681.2 303.5Q685.5 302.8 684.8 297.0Q684.1 291.2 685.5 286.8Q687.0 282.5 690.6 280.0Q694.2 277.4 699.3 277.1Q704.4 276.7 709.5 274.9Q714.5 273.1 714.5 269.8Q714.5 266.5 716.7 262.2Q718.9 257.8 724.0 255.8Q729.0 253.8 732.7 254.7Q736.3 255.7 742.1 260.7Q747.9 265.8 750.8 265.8Q753.7 265.8 757.3 266.5Q760.9 267.3 764.6 264.4Q768.2 261.5 772.5 258.9Q776.9 256.4 782.7 256.4Q788.5 256.4 792.8 256.0Q797.2 255.7 800.1 256.0Q803.0 256.4 807.3 258.2Q811.7 260.0 815.3 264.0Q818.9 268.0 822.6 270.5Q826.2 273.1 829.1 275.6Q832.0 278.1 833.4 282.5Q834.9 286.8 834.2 291.6Q833.4 296.3 836.3 298.4Q839.2 300.6 841.1 305.3Q842.9 310.0 842.5 313.7Q842.1 317.3 845.8 320.6Q849.4 323.8 853.0 327.8Q856.6 331.8 857.4 335.1Q858.1 338.3 861.0 341.6Q863.9 344.8 868.2 345.2Q872.6 345.6 876.9 346.7Q881.3 347.7 885.6 349.6Q890.0 351.4 890.4 351.4Q890.9 351.4 893.4 350.1Q895.9 348.9 899.6 348.3Q903.2 347.7 907.5 349.6Q911.9 351.4 914.4 355.4Q917.0 359.3 923.9 359.2Q930.7 359.1 936.5 357.6Q942.3 356.2 946.0 355.9Q949.6 355.7 952.9 356.4Q956.1 357.2 960.1 356.4Q964.1 355.7 969.2 354.9Q974.2 354.0 978.6 354.1Q982.9 354.3 986.6 356.1Q990.2 357.9 993.1 359.6Q996.0 361.2 1000.3 361.4Q1004.7 361.5 1009.8 363.9Q1014.8 366.3 1018.8 366.8Q1022.8 367.3 1023.9 364.1Q1025.0 360.8 1027.2 358.3Q1029.3 355.7 1031.5 348.5Q1033.7 341.2 1039.5 336.9Q1045.3 332.5 1046.0 328.5Q1046.7 324.5 1051.1 320.6Q1055.4 316.6 1056.2 314.4Q1056.9 312.2 1061.2 310.0Q1065.6 307.9 1070.7 306.8Q1075.7 305.7 1076.1 301.3Q1076.5 297.0 1079.7 293.0Q1083.0 289.0 1084.1 285.0Q1085.2 281.0 1089.2 278.3Q1093.1 275.5 1099.7 275.5Q1106.2 275.5 1106.2 271.8Q1106.2 268.0 1108.4 264.0Q1110.5 260.0 1114.9 257.6Q1119.2 255.2 1124.3 256.0Q1129.4 256.7 1132.3 260.2Q1135.2 263.6 1137.4 266.0Q1139.5 268.4 1144.6 267.1Q1149.7 265.8 1154.0 266.9Q1158.4 268.0 1163.1 269.3Q1167.8 270.6 1171.9 268.9Q1175.9 267.3 1180.3 267.1Q1184.6 267.0 1188.3 268.9Q1191.9 270.9 1194.4 276.0Q1197.0 281.0 1199.9 283.9Q1202.8 286.8 1203.7 290.5Q1204.7 294.1 1203.0 299.5Q1201.3 305.0 1205.3 307.9Q1209.3 310.8 1212.6 313.3Q1215.8 315.8 1217.6 320.2Q1219.4 324.5 1218.4 329.6Q1217.3 334.7 1220.5 337.6Q1223.8 340.5 1225.4 344.1Q1227.0 347.7 1226.5 351.7Q1226.0 355.7 1229.2 356.1Q1232.5 356.4 1235.0 357.9Q1237.6 359.3 1240.8 358.8Q1244.1 358.2 1247.7 359.5Q1251.3 360.8 1254.2 363.0Q1257.1 365.1 1261.5 366.2Q1265.8 367.3 1272.4 367.8Q1278.9 368.3 1284.7 368.2Q1290.5 368.0 1294.1 367.9Q1297.7 367.8 1302.1 368.0Q1306.4 368.3 1311.5 369.8Q1316.6 371.2 1323.8 371.8Q1331.1 372.4 1336.9 372.3Q1342.7 372.1 1347.0 371.9Q1351.4 371.7 1354.3 373.1Q1357.2 374.6 1359.0 377.5Q1360.8 380.4 1364.8 381.1Q1368.8 381.8 1373.1 384.0Q1377.5 386.2 1381.8 386.4Q1386.2 386.6 1390.5 388.6Q1394.9 390.5 1397.8 391.0Q1400.7 391.5 1403.6 389.6Q1406.5 387.6 1407.9 378.6Q1409.4 369.5 1412.3 365.5Q1415.2 361.5 1418.8 360.1Q1422.4 358.6 1426.8 359.0Q1431.1 359.3 1431.5 356.4Q1431.9 353.5 1428.6 351.0Q1425.3 348.5 1424.3 344.5Q1423.2 340.5 1424.3 336.9Q1425.3 333.2 1429.0 329.6Q1432.6 326.0 1435.5 323.5Q1438.4 320.9 1438.8 317.7Q1439.1 314.4 1441.7 311.1Q1444.2 307.9 1448.6 306.8Q1453.0 305.7 1453.2 301.3Q1453.3 297.0 1455.4 293.4Q1457.4 289.7 1460.3 287.9Q1463.2 286.1 1469.0 286.5Q1474.8 286.8 1481.3 286.1Q1487.8 285.4 1491.5 283.8Q1495.1 282.2 1499.4 282.4Q1503.8 282.5 1508.9 281.9Q1513.9 281.3 1516.8 278.3Q1519.7 275.2 1524.1 274.2Q1528.4 273.1 1532.8 274.3Q1537.1 275.5 1540.8 275.2Q1544.4 275.0 1548.0 276.2Q1551.6 277.4 1554.5 279.6Q1557.4 281.8 1561.1 283.2Q1564.7 284.7 1568.0 287.9Q1571.2 291.2 1572.5 295.5Q1573.7 299.9 1576.4 303.5Q1579.2 307.1 1580.1 313.7Q1580.9 320.2 1583.7 323.8Q1586.4 327.4 1587.5 331.8Q1588.6 336.1 1587.9 340.9Q1587.2 345.6 1590.4 348.5Q1593.7 351.4 1597.3 353.9Q1600.9 356.4 1602.4 360.4Q1603.8 364.4 1606.7 367.0Q1609.6 369.5 1610.7 373.5Q1611.8 377.5 1615.1 378.6Q1618.3 379.6 1621.2 382.5Q1624.1 385.4 1625.2 387.3Q1626.3 389.1 1629.6 389.8Q1632.8 390.5 1636.8 394.5Q1640.8 398.5 1647.0 398.9Q1653.1 399.2 1656.8 401.0Q1660.4 402.8 1666.2 401.4Q1672.0 399.9 1675.6 401.4Q1679.2 402.8 1682.1 404.7Q1685.0 406.5 1690.1 404.3Q1695.2 402.1 1699.5 401.6Q1703.9 401.1 1707.5 403.1Q1711.1 405.0 1713.7 408.6Q1716.2 412.3 1728.3 412.5Q1740.3 412.7 1743.9 411.8Q1747.5 410.8 1750.4 411.2Q1753.3 411.5 1757.0 415.2Q1760.6 418.8 1764.2 419.5Q1767.8 420.2 1771.5 419.2Q1775.1 418.1 1776.5 417.0Q1778.0 415.9 1777.6 412.3Q1777.3 408.6 1779.1 405.0Q1780.9 401.4 1783.1 399.6Q1785.2 397.8 1785.6 388.0Q1786.0 378.2 1788.9 375.3Q1791.8 372.4 1792.1 368.8Q1792.5 365.1 1794.7 361.2Q1796.8 357.2 1801.9 353.5Q1807.0 349.9 1807.1 345.9Q1807.3 341.9 1809.3 339.0Q1811.3 336.1 1813.9 334.3Q1816.4 332.5 1819.0 329.3Q1821.5 326.0 1822.9 322.7Q1824.4 319.5 1826.9 316.6Q1829.5 313.7 1829.3 309.7Q1829.0 305.7 1831.1 302.1Q1833.1 298.4 1836.0 296.3Q1838.9 294.1 1842.5 293.5Q1846.1 292.9 1849.0 293.5Q1851.9 294.1 1853.8 295.5Q1855.6 297.0 1861.7 297.4Q1867.9 297.7 1870.8 295.2Q1873.7 292.6 1876.6 291.3Q1879.5 290.0 1883.1 290.0Q1886.7 290.0 1889.6 291.3Q1892.5 292.6 1896.2 292.5Q1899.8 292.4 1904.1 290.3Q1908.5 288.3 1912.1 288.3Q1915.7 288.3 1918.6 289.2Q1921.5 290.0 1925.9 290.5Q1930.2 290.9 1935.3 291.1Q1940.4 291.2 1943.3 293.4Q1946.2 295.5 1948.0 300.6Q1949.8 305.7 1948.0 310.8Q1946.2 315.8 1943.3 318.2Q1940.4 320.5 1931.7 320.5Q1923.0 320.5 1917.9 320.7Q1912.8 320.9 1904.9 322.2Q1896.9 323.4 1891.8 323.6Q1886.7 323.8 1882.4 326.4Q1878.0 328.9 1871.5 329.3Q1865.0 329.6 1861.4 332.5Q1857.7 335.4 1854.1 335.6Q1850.5 335.9 1848.3 337.5Q1846.1 339.0 1844.7 342.3Q1843.2 345.6 1837.1 351.7Q1830.9 357.9 1830.3 360.8Q1829.8 363.7 1828.5 368.0Q1827.3 372.4 1824.4 374.6Q1821.5 376.7 1818.2 379.6Q1815.0 382.5 1813.9 387.6Q1812.8 392.7 1810.6 394.9Q1808.4 397.0 1805.5 399.2Q1802.6 401.4 1804.7 407.2Q1806.7 413.0 1804.7 418.1Q1802.6 423.1 1799.7 425.3Q1796.8 427.5 1798.3 431.8Q1799.7 436.2 1798.3 440.9Q1796.8 445.6 1793.9 448.2Q1791.0 450.7 1786.7 451.3Q1782.3 451.9 1779.4 451.3Q1776.5 450.7 1771.5 450.7Q1766.4 450.7 1762.0 450.0Q1757.7 449.2 1752.6 448.5Q1747.5 447.8 1744.6 445.5Q1741.7 443.2 1734.8 443.2Q1727.8 443.2 1724.6 444.9Q1721.3 446.6 1714.8 446.3Q1708.2 446.1 1704.6 442.9Q1701.0 439.8 1698.1 437.6Q1695.2 435.5 1689.4 436.6Q1683.6 437.6 1678.5 437.6Q1673.4 437.6 1670.5 435.8Q1667.6 434.0 1664.7 434.4Q1661.8 434.7 1656.0 434.6Q1650.2 434.5 1646.6 431.8Q1643.0 429.2 1639.4 429.1Q1635.7 428.9 1631.4 427.9Q1627.0 426.8 1623.4 423.5Q1619.8 420.2 1615.4 419.5Q1611.1 418.8 1607.5 415.5Q1603.8 412.3 1600.2 411.5Q1596.6 410.8 1593.7 408.3Q1590.8 405.7 1589.5 402.8Q1588.2 399.9 1588.4 395.6Q1588.6 391.2 1585.7 388.3Q1582.8 385.4 1582.1 382.5Q1581.4 379.6 1578.1 376.4Q1574.8 373.1 1571.6 370.2Q1568.3 367.3 1567.2 364.1Q1566.1 360.8 1566.9 355.7Q1567.6 350.6 1564.0 347.7Q1560.3 344.8 1557.4 335.4Q1554.5 326.0 1552.7 323.1Q1550.9 320.2 1550.6 315.8Q1550.2 311.5 1545.8 310.4Q1541.5 309.3 1536.4 309.7Q1531.3 310.0 1528.4 311.9Q1525.5 313.7 1519.0 314.8Q1512.5 315.8 1508.5 316.4Q1504.5 317.0 1502.7 319.3Q1500.9 321.6 1497.3 323.6Q1493.6 325.6 1488.6 325.1Q1483.5 324.5 1478.8 325.3Q1474.1 326.0 1471.5 328.9Q1469.0 331.8 1465.0 332.9Q1461.0 334.0 1459.9 338.0Q1458.8 341.9 1455.2 344.8Q1451.6 347.7 1447.9 351.4Q1444.2 355.0 1441.2 355.7Q1438.1 356.4 1438.3 359.0Q1438.4 361.5 1441.3 364.8Q1444.2 368.0 1445.1 372.4Q1445.9 376.7 1444.3 381.1Q1442.7 385.4 1439.8 388.0Q1436.9 390.5 1433.7 391.2Q1430.4 392.0 1430.1 398.1Q1429.7 404.3 1426.8 408.6Q1423.9 413.0 1420.3 415.9Q1416.6 418.8 1413.0 420.6Q1409.4 422.4 1403.6 422.6Q1397.8 422.9 1394.2 422.3Q1390.5 421.7 1386.9 420.1Q1383.3 418.5 1377.5 418.5Q1371.7 418.5 1368.8 416.5Q1365.9 414.4 1363.4 413.0Q1360.8 411.5 1358.3 412.1Q1355.7 412.7 1352.1 412.5Q1348.5 412.3 1345.6 409.7Q1342.7 407.2 1341.2 405.0Q1339.8 402.8 1334.0 402.8Q1328.2 402.8 1326.7 402.5Q1325.3 402.1 1319.5 401.9Q1313.7 401.7 1310.1 401.2Q1306.4 400.7 1302.8 399.8Q1299.2 398.9 1293.4 398.9Q1287.6 398.9 1284.7 399.8Q1281.8 400.7 1278.9 400.7Q1276.0 400.7 1273.1 399.2Q1270.2 397.8 1265.1 397.6Q1260.0 397.3 1256.4 396.3Q1252.8 395.3 1247.7 394.4Q1242.6 393.4 1239.7 391.6Q1236.8 389.8 1231.8 389.4Q1226.7 389.1 1223.8 386.9Q1220.9 384.7 1217.3 384.4Q1213.6 384.0 1210.7 381.5Q1207.8 378.9 1206.3 374.9Q1204.7 370.9 1204.8 367.0Q1204.9 363.0 1202.0 360.4Q1199.1 357.9 1197.7 353.5Q1196.2 349.2 1197.7 344.8Q1199.1 340.5 1197.7 339.4Q1196.2 338.3 1192.6 335.1Q1189.0 331.8 1186.5 328.9Q1183.9 326.0 1182.8 316.2Q1181.7 306.4 1178.8 304.2Q1175.9 302.1 1168.6 301.3Q1161.3 300.6 1156.2 299.2Q1151.1 297.7 1143.2 298.1Q1135.2 298.4 1132.3 297.7Q1129.4 297.0 1128.7 300.6Q1127.9 304.2 1124.3 308.2Q1120.7 312.2 1116.3 312.6Q1112.0 312.9 1108.4 312.6Q1104.7 312.2 1101.1 314.8Q1097.5 317.3 1094.6 318.4Q1091.7 319.5 1094.2 322.0Q1096.8 324.5 1097.9 328.9Q1098.9 333.2 1097.5 337.6Q1096.0 341.9 1092.4 344.8Q1088.8 347.7 1083.0 347.4Q1077.2 347.0 1074.3 344.8Q1071.4 342.7 1070.3 343.4Q1069.2 344.1 1068.5 348.1Q1067.8 352.1 1064.5 355.4Q1061.2 358.6 1057.6 361.9Q1054.0 365.1 1053.6 369.5Q1053.3 373.8 1049.6 378.2Q1046.0 382.5 1045.7 386.5Q1045.3 390.5 1041.3 394.5Q1037.3 398.5 1033.3 400.1Q1029.3 401.7 1022.8 401.5Q1016.3 401.4 1013.4 399.2Q1010.5 397.0 1006.9 395.7Q1003.2 394.4 1001.1 395.0Q998.9 395.6 994.5 395.7Q990.2 395.9 987.3 394.7Q984.4 393.4 981.5 390.3Q978.6 387.2 975.7 386.2Q972.8 385.2 969.9 386.0Q967.0 386.9 959.7 387.3Q952.5 387.6 948.9 387.4Q945.2 387.2 941.6 389.8Q938.0 392.4 934.4 392.7Q930.7 393.0 927.1 392.1Q923.5 391.2 919.9 391.4Q916.2 391.5 910.4 390.5Q904.6 389.5 901.4 387.3Q898.1 385.0 896.3 385.6Q894.5 386.2 891.5 386.9Q888.5 387.6 884.9 386.9Q881.3 386.2 878.4 384.0Q875.5 381.8 871.9 381.5Q868.2 381.1 864.6 378.6Q861.0 376.0 857.4 375.7Q853.7 375.3 850.1 372.8Q846.5 370.2 843.6 366.2Q840.7 362.2 838.5 358.6Q836.3 355.0 833.4 349.9Q830.5 344.8 826.9 341.9Q823.3 339.0 821.8 336.1Q820.4 333.2 820.0 328.9Q819.7 324.5 817.1 321.6Q814.6 318.7 813.5 315.1Q812.4 311.5 812.8 306.4Q813.1 301.3 811.0 299.5Q808.8 297.7 805.9 296.3Q803.0 294.8 801.2 292.6Q799.4 290.5 797.6 290.8Q795.7 291.2 789.6 291.2Q783.4 291.2 782.0 295.5Q780.5 299.9 777.3 302.4Q774.0 305.0 770.4 306.1Q766.7 307.1 762.4 306.1Q758.0 305.0 754.4 302.6Q750.8 300.2 745.7 300.4Q740.6 300.6 737.7 299.3Q734.8 298.0 731.2 300.8Q727.6 303.5 724.0 303.7Q720.3 304.0 716.7 307.0Q713.1 310.0 708.4 310.8Q703.7 311.5 705.3 316.6Q706.9 321.6 704.9 326.7Q702.9 331.8 700.0 334.0Q697.1 336.1 692.8 336.5Q688.4 336.9 685.9 338.7Q683.4 340.5 683.0 347.7Q682.6 355.0 679.7 358.3Q676.8 361.5 674.7 367.7Q672.5 373.8 668.9 377.1Q665.2 380.4 661.6 383.3Q658.0 386.2 654.4 388.3Q650.7 390.5 646.4 390.5Q642.0 390.5 638.4 388.3Q634.8 386.2 631.9 384.9Q629.0 383.6 621.0 383.6Q613.0 383.6 610.1 382.3Q607.1 381.1 604.2 379.6Q601.3 378.2 594.8 378.2Q588.2 378.2 584.6 377.1Q581.0 376.0 573.7 376.2Q566.5 376.5 562.9 377.3Q559.2 378.2 555.6 378.3Q552.0 378.5 548.4 377.3Q544.7 376.0 537.5 375.7Q530.2 375.3 523.0 375.7Q515.7 376.0 512.1 376.4Q508.5 376.7 504.9 375.7Q501.2 374.6 497.6 374.9Q494.0 375.3 488.9 375.3Q483.8 375.3 480.2 372.4Q476.6 369.5 473.7 368.0Q470.8 366.6 467.9 364.1Q465.0 361.5 462.1 358.3Q459.2 355.0 458.5 352.1Q457.7 349.2 454.8 346.3Q451.9 343.4 451.2 340.5Q450.5 337.6 447.6 334.7Q444.7 331.8 444.0 327.4Q443.2 323.1 444.7 318.7Q446.1 314.4 448.3 312.9Q450.5 311.5 450.9 306.3Q451.2 301.1 448.7 300.5Q446.1 299.9 443.2 298.1Q440.3 296.3 438.2 293.0Q436.0 289.7 435.3 285.4Q434.5 281.0 430.9 281.0Q427.3 281.0 423.7 283.6Q420.0 286.1 416.4 287.1Q412.8 288.0 409.9 287.4Q407.0 286.8 404.1 284.7Q401.2 282.5 399.0 279.2Q396.8 276.0 393.9 278.5Q391.0 281.0 387.4 282.5Q383.8 283.9 380.9 283.6Q378.0 283.2 375.1 282.1Q372.2 281.0 367.8 281.0Q363.5 281.0 360.6 280.0Q357.7 278.9 356.2 276.3Q354.8 273.8 352.6 270.9Q350.4 268.0 348.3 265.5Q346.1 262.9 342.8 259.7Q339.6 256.4 338.3 252.4Q337.1 248.4 337.1 248.4Z" fill="#ff0000" stroke="#ff0000" stroke-width="2" stroke-linejoin="round"/>
<path d="M451.2 285.4L457.7 324.5M1430.9 376.7L1439.1 340.5" stroke="#ff0000" stroke-width="7.4" fill="none"/><circle cx="1430.9" cy="376.7" r="15" fill="#ff0000"/>
<circle cx="352.1" cy="247.9" r="15" fill="#ff0000"/><circle cx="1934.6" cy="306" r="15" fill="#ff0000"/>
<g fill="#0000ff" stroke="#0000ff">
<line x1="352.7" y1="171.3" x2="1935.1" y2="171.3" stroke-width="8"/>
<path stroke="none" d="M333.6 170.3L351.2 152.7L354.2 152.7L371.8 170.3L371.8 172.3L354.2 190.0L351.2 190.0L333.6 172.3ZM341.2 170.3L358.7 152.7L361.7 152.7L379.3 170.3L379.3 172.3L361.7 190.0L358.7 190.0L341.2 172.3ZM348.7 170.3L366.3 152.7L369.3 152.7L386.8 170.3L386.8 172.3L369.3 190.0L366.3 190.0L348.7 172.3ZM356.3 170.3L373.8 152.7L376.8 152.7L394.4 170.3L394.4 172.3L376.8 190.0L373.8 190.0L356.3 172.3ZM363.8 170.3L381.3 152.7L384.3 152.7L401.9 170.3L401.9 172.3L384.3 190.0L381.3 190.0L363.8 172.3ZM371.3 170.3L388.9 152.7L391.9 152.7L409.4 170.3L409.4 172.3L391.9 190.0L388.9 190.0L371.3 172.3ZM378.9 170.3L396.4 152.7L399.4 152.7L417.0 170.3L417.0 172.3L399.4 190.0L396.4 190.0L378.9 172.3ZM386.4 170.3L403.9 152.7L406.9 152.7L424.5 170.3L424.5 172.3L406.9 190.0L403.9 190.0L386.4 172.3ZM393.9 170.3L411.5 152.7L414.5 152.7L432.0 170.3L432.0 172.3L414.5 190.0L411.5 190.0L393.9 172.3ZM401.5 170.3L419.0 152.7L422.0 152.7L439.6 170.3L439.6 172.3L422.0 190.0L419.0 190.0L401.5 172.3ZM409.0 170.3L426.5 152.7L429.5 152.7L447.1 170.3L447.1 172.3L429.5 190.0L426.5 190.0L409.0 172.3ZM416.5 170.3L434.1 152.7L437.1 152.7L454.6 170.3L454.6 172.3L437.1 190.0L434.1 190.0L416.5 172.3ZM424.1 170.3L441.6 152.7L444.6 152.7L462.2 170.3L462.2 172.3L444.6 190.0L441.6 190.0L424.1 172.3ZM431.6 170.3L449.2 152.7L452.2 152.7L469.7 170.3L469.7 172.3L452.2 190.0L449.2 190.0L431.6 172.3ZM439.1 170.3L456.7 152.7L459.7 152.7L477.2 170.3L477.2 172.3L459.7 190.0L456.7 190.0L439.1 172.3ZM446.7 170.3L464.2 152.7L467.2 152.7L484.8 170.3L484.8 172.3L467.2 190.0L464.2 190.0L446.7 172.3ZM454.2 170.3L471.8 152.7L474.8 152.7L492.3 170.3L492.3 172.3L474.8 190.0L471.8 190.0L454.2 172.3ZM461.7 170.3L479.3 152.7L482.3 152.7L499.8 170.3L499.8 172.3L482.3 190.0L479.3 190.0L461.7 172.3ZM469.3 170.3L486.8 152.7L489.8 152.7L507.4 170.3L507.4 172.3L489.8 190.0L486.8 190.0L469.3 172.3ZM476.8 170.3L494.4 152.7L497.4 152.7L514.9 170.3L514.9 172.3L497.4 190.0L494.4 190.0L476.8 172.3ZM484.3 170.3L501.9 152.7L504.9 152.7L522.4 170.3L522.4 172.3L504.9 190.0L501.9 190.0L484.3 172.3ZM491.9 170.3L509.4 152.7L512.4 152.7L530.0 170.3L530.0 172.3L512.4 190.0L509.4 190.0L491.9 172.3ZM499.4 170.3L517.0 152.7L520.0 152.7L537.5 170.3L537.5 172.3L520.0 190.0L517.0 190.0L499.4 172.3ZM507.0 170.3L524.5 152.7L527.5 152.7L545.1 170.3L545.1 172.3L527.5 190.0L524.5 190.0L507.0 172.3ZM514.5 170.3L532.0 152.7L535.0 152.7L552.6 170.3L552.6 172.3L535.0 190.0L532.0 190.0L514.5 172.3ZM522.0 170.3L539.6 152.7L542.6 152.7L560.1 170.3L560.1 172.3L542.6 190.0L539.6 190.0L522.0 172.3ZM529.6 170.3L547.1 152.7L550.1 152.7L567.7 170.3L567.7 172.3L550.1 190.0L547.1 190.0L529.6 172.3ZM537.1 170.3L554.6 152.7L557.6 152.7L575.2 170.3L575.2 172.3L557.6 190.0L554.6 190.0L537.1 172.3ZM544.6 170.3L562.2 152.7L565.2 152.7L582.7 170.3L582.7 172.3L565.2 190.0L562.2 190.0L544.6 172.3ZM552.2 170.3L569.7 152.7L572.7 152.7L590.3 170.3L590.3 172.3L572.7 190.0L569.7 190.0L552.2 172.3ZM559.7 170.3L577.2 152.7L580.2 152.7L597.8 170.3L597.8 172.3L580.2 190.0L577.2 190.0L559.7 172.3ZM567.2 170.3L584.8 152.7L587.8 152.7L605.3 170.3L605.3 172.3L587.8 190.0L584.8 190.0L567.2 172.3ZM574.8 170.3L592.3 152.7L595.3 152.7L612.9 170.3L612.9 172.3L595.3 190.0L592.3 190.0L574.8 172.3ZM582.3 170.3L599.9 152.7L602.9 152.7L620.4 170.3L620.4 172.3L602.9 190.0L599.9 190.0L582.3 172.3ZM589.8 170.3L607.4 152.7L610.4 152.7L627.9 170.3L627.9 172.3L610.4 190.0L607.4 190.0L589.8 172.3ZM597.4 170.3L614.9 152.7L617.9 152.7L635.5 170.3L635.5 172.3L617.9 190.0L614.9 190.0L597.4 172.3ZM604.9 170.3L622.5 152.7L625.5 152.7L643.0 170.3L643.0 172.3L625.5 190.0L622.5 190.0L604.9 172.3ZM612.4 170.3L630.0 152.7L633.0 152.7L650.5 170.3L650.5 172.3L633.0 190.0L630.0 190.0L612.4 172.3ZM620.0 170.3L637.5 152.7L640.5 152.7L658.1 170.3L658.1 172.3L640.5 190.0L637.5 190.0L620.0 172.3ZM627.5 170.3L645.1 152.7L648.1 152.7L665.6 170.3L665.6 172.3L648.1 190.0L645.1 190.0L627.5 172.3ZM635.0 170.3L652.6 152.7L655.6 152.7L673.1 170.3L673.1 172.3L655.6 190.0L652.6 190.0L635.0 172.3ZM642.6 170.3L660.1 152.7L663.1 152.7L680.7 170.3L680.7 172.3L663.1 190.0L660.1 190.0L642.6 172.3ZM650.1 170.3L667.7 152.7L670.7 152.7L688.2 170.3L688.2 172.3L670.7 190.0L667.7 190.0L650.1 172.3ZM657.7 170.3L675.2 152.7L678.2 152.7L695.8 170.3L695.8 172.3L678.2 190.0L675.2 190.0L657.7 172.3ZM665.2 170.3L682.7 152.7L685.7 152.7L703.3 170.3L703.3 172.3L685.7 190.0L682.7 190.0L665.2 172.3ZM672.7 170.3L690.3 152.7L693.3 152.7L710.8 170.3L710.8 172.3L693.3 190.0L690.3 190.0L672.7 172.3ZM680.3 170.3L697.8 152.7L700.8 152.7L718.4 170.3L718.4 172.3L700.8 190.0L697.8 190.0L680.3 172.3ZM687.8 170.3L705.3 152.7L708.3 152.7L725.9 170.3L725.9 172.3L708.3 190.0L705.3 190.0L687.8 172.3ZM695.3 170.3L712.9 152.7L715.9 152.7L733.4 170.3L733.4 172.3L715.9 190.0L712.9 190.0L695.3 172.3ZM702.9 170.3L720.4 152.7L723.4 152.7L741.0 170.3L741.0 172.3L723.4 190.0L720.4 190.0L702.9 172.3ZM710.4 170.3L728.0 152.7L731.0 152.7L748.5 170.3L748.5 172.3L731.0 190.0L728.0 190.0L710.4 172.3ZM717.9 170.3L735.5 152.7L738.5 152.7L756.0 170.3L756.0 172.3L738.5 190.0L735.5 190.0L717.9 172.3ZM725.5 170.3L743.0 152.7L746.0 152.7L763.6 170.3L763.6 172.3L746.0 190.0L743.0 190.0L725.5 172.3ZM733.0 170.3L750.6 152.7L753.6 152.7L771.1 170.3L771.1 172.3L753.6 190.0L750.6 190.0L733.0 172.3ZM740.5 170.3L758.1 152.7L761.1 152.7L778.6 170.3L778.6 172.3L761.1 190.0L758.1 190.0L740.5 172.3ZM748.1 170.3L765.6 152.7L768.6 152.7L786.2 170.3L786.2 172.3L768.6 190.0L765.6 190.0L748.1 172.3ZM755.6 170.3L773.2 152.7L776.2 152.7L793.7 170.3L793.7 172.3L776.2 190.0L773.2 190.0L755.6 172.3ZM763.1 170.3L780.7 152.7L783.7 152.7L801.2 170.3L801.2 172.3L783.7 190.0L780.7 190.0L763.1 172.3ZM770.7 170.3L788.2 152.7L791.2 152.7L808.8 170.3L808.8 172.3L791.2 190.0L788.2 190.0L770.7 172.3ZM778.2 170.3L795.8 152.7L798.8 152.7L816.3 170.3L816.3 172.3L798.8 190.0L795.8 190.0L778.2 172.3ZM785.8 170.3L803.3 152.7L806.3 152.7L823.8 170.3L823.8 172.3L806.3 190.0L803.3 190.0L785.8 172.3ZM793.3 170.3L810.8 152.7L813.8 152.7L831.4 170.3L831.4 172.3L813.8 190.0L810.8 190.0L793.3 172.3ZM800.8 170.3L818.4 152.7L821.4 152.7L838.9 170.3L838.9 172.3L821.4 190.0L818.4 190.0L800.8 172.3ZM808.4 170.3L825.9 152.7L828.9 152.7L846.5 170.3L846.5 172.3L828.9 190.0L825.9 190.0L808.4 172.3ZM815.9 170.3L833.4 152.7L836.4 152.7L854.0 170.3L854.0 172.3L836.4 190.0L833.4 190.0L815.9 172.3ZM823.4 170.3L841.0 152.7L844.0 152.7L861.5 170.3L861.5 172.3L844.0 190.0L841.0 190.0L823.4 172.3ZM831.0 170.3L848.5 152.7L851.5 152.7L869.1 170.3L869.1 172.3L851.5 190.0L848.5 190.0L831.0 172.3ZM838.5 170.3L856.0 152.7L859.0 152.7L876.6 170.3L876.6 172.3L859.0 190.0L856.0 190.0L838.5 172.3ZM846.0 170.3L863.6 152.7L866.6 152.7L884.1 170.3L884.1 172.3L866.6 190.0L863.6 190.0L846.0 172.3ZM853.6 170.3L871.1 152.7L874.1 152.7L891.7 170.3L891.7 172.3L874.1 190.0L871.1 190.0L853.6 172.3ZM861.1 170.3L878.7 152.7L881.7 152.7L899.2 170.3L899.2 172.3L881.7 190.0L878.7 190.0L861.1 172.3ZM868.6 170.3L886.2 152.7L889.2 152.7L906.7 170.3L906.7 172.3L889.2 190.0L886.2 190.0L868.6 172.3ZM876.2 170.3L893.7 152.7L896.7 152.7L914.3 170.3L914.3 172.3L896.7 190.0L893.7 190.0L876.2 172.3ZM883.7 170.3L901.3 152.7L904.3 152.7L921.8 170.3L921.8 172.3L904.3 190.0L901.3 190.0L883.7 172.3ZM891.2 170.3L908.8 152.7L911.8 152.7L929.3 170.3L929.3 172.3L911.8 190.0L908.8 190.0L891.2 172.3ZM898.8 170.3L916.3 152.7L919.3 152.7L936.9 170.3L936.9 172.3L919.3 190.0L916.3 190.0L898.8 172.3ZM906.3 170.3L923.9 152.7L926.9 152.7L944.4 170.3L944.4 172.3L926.9 190.0L923.9 190.0L906.3 172.3ZM913.8 170.3L931.4 152.7L934.4 152.7L951.9 170.3L951.9 172.3L934.4 190.0L931.4 190.0L913.8 172.3ZM921.4 170.3L938.9 152.7L941.9 152.7L959.5 170.3L959.5 172.3L941.9 190.0L938.9 190.0L921.4 172.3ZM928.9 170.3L946.5 152.7L949.5 152.7L967.0 170.3L967.0 172.3L949.5 190.0L946.5 190.0L928.9 172.3ZM936.5 170.3L954.0 152.7L957.0 152.7L974.5 170.3L974.5 172.3L957.0 190.0L954.0 190.0L936.5 172.3ZM944.0 170.3L961.5 152.7L964.5 152.7L982.1 170.3L982.1 172.3L964.5 190.0L961.5 190.0L944.0 172.3ZM951.5 170.3L969.1 152.7L972.1 152.7L989.6 170.3L989.6 172.3L972.1 190.0L969.1 190.0L951.5 172.3ZM959.1 170.3L976.6 152.7L979.6 152.7L997.2 170.3L997.2 172.3L979.6 190.0L976.6 190.0L959.1 172.3ZM966.6 170.3L984.1 152.7L987.1 152.7L1004.7 170.3L1004.7 172.3L987.1 190.0L984.1 190.0L966.6 172.3ZM974.1 170.3L991.7 152.7L994.7 152.7L1012.2 170.3L1012.2 172.3L994.7 190.0L991.7 190.0L974.1 172.3ZM981.7 170.3L999.2 152.7L1002.2 152.7L1019.8 170.3L1019.8 172.3L1002.2 190.0L999.2 190.0L981.7 172.3ZM989.2 170.3L1006.7 152.7L1009.7 152.7L1027.3 170.3L1027.3 172.3L1009.7 190.0L1006.7 190.0L989.2 172.3ZM996.7 170.3L1014.3 152.7L1017.3 152.7L1034.8 170.3L1034.8 172.3L1017.3 190.0L1014.3 190.0L996.7 172.3ZM1004.3 170.3L1021.8 152.7L1024.8 152.7L1042.4 170.3L1042.4 172.3L1024.8 190.0L1021.8 190.0L1004.3 172.3ZM1011.8 170.3L1029.3 152.7L1032.3 152.7L1049.9 170.3L1049.9 172.3L1032.3 190.0L1029.3 190.0L1011.8 172.3ZM1019.3 170.3L1036.9 152.7L1039.9 152.7L1057.4 170.3L1057.4 172.3L1039.9 190.0L1036.9 190.0L1019.3 172.3ZM1026.9 170.3L1044.4 152.7L1047.4 152.7L1065.0 170.3L1065.0 172.3L1047.4 190.0L1044.4 190.0L1026.9 172.3ZM1034.4 170.3L1052.0 152.7L1055.0 152.7L1072.5 170.3L1072.5 172.3L1055.0 190.0L1052.0 190.0L1034.4 172.3ZM1041.9 170.3L1059.5 152.7L1062.5 152.7L1080.0 170.3L1080.0 172.3L1062.5 190.0L1059.5 190.0L1041.9 172.3ZM1049.5 170.3L1067.0 152.7L1070.0 152.7L1087.6 170.3L1087.6 172.3L1070.0 190.0L1067.0 190.0L1049.5 172.3ZM1057.0 170.3L1074.6 152.7L1077.6 152.7L1095.1 170.3L1095.1 172.3L1077.6 190.0L1074.6 190.0L1057.0 172.3ZM1064.5 170.3L1082.1 152.7L1085.1 152.7L1102.6 170.3L1102.6 172.3L1085.1 190.0L1082.1 190.0L1064.5 172.3ZM1072.1 170.3L1089.6 152.7L1092.6 152.7L1110.2 170.3L1110.2 172.3L1092.6 190.0L1089.6 190.0L1072.1 172.3ZM1079.6 170.3L1097.2 152.7L1100.2 152.7L1117.7 170.3L1117.7 172.3L1100.2 190.0L1097.2 190.0L1079.6 172.3ZM1087.2 170.3L1104.7 152.7L1107.7 152.7L1125.2 170.3L1125.2 172.3L1107.7 190.0L1104.7 190.0L1087.2 172.3ZM1094.7 170.3L1112.2 152.7L1115.2 152.7L1132.8 170.3L1132.8 172.3L1115.2 190.0L1112.2 190.0L1094.7 172.3ZM1102.2 170.3L1119.8 152.7L1122.8 152.7L1140.3 170.3L1140.3 172.3L1122.8 190.0L1119.8 190.0L1102.2 172.3ZM1109.8 170.3L1127.3 152.7L1130.3 152.7L1147.9 170.3L1147.9 172.3L1130.3 190.0L1127.3 190.0L1109.8 172.3ZM1117.3 170.3L1134.8 152.7L1137.8 152.7L1155.4 170.3L1155.4 172.3L1137.8 190.0L1134.8 190.0L1117.3 172.3ZM1124.8 170.3L1142.4 152.7L1145.4 152.7L1162.9 170.3L1162.9 172.3L1145.4 190.0L1142.4 190.0L1124.8 172.3ZM1132.4 170.3L1149.9 152.7L1152.9 152.7L1170.5 170.3L1170.5 172.3L1152.9 190.0L1149.9 190.0L1132.4 172.3ZM1139.9 170.3L1157.4 152.7L1160.4 152.7L1178.0 170.3L1178.0 172.3L1160.4 190.0L1157.4 190.0L1139.9 172.3ZM1147.4 170.3L1165.0 152.7L1168.0 152.7L1185.5 170.3L1185.5 172.3L1168.0 190.0L1165.0 190.0L1147.4 172.3ZM1155.0 170.3L1172.5 152.7L1175.5 152.7L1193.1 170.3L1193.1 172.3L1175.5 190.0L1172.5 190.0L1155.0 172.3ZM1162.5 170.3L1180.0 152.7L1183.0 152.7L1200.6 170.3L1200.6 172.3L1183.0 190.0L1180.0 190.0L1162.5 172.3ZM1170.0 170.3L1187.6 152.7L1190.6 152.7L1208.1 170.3L1208.1 172.3L1190.6 190.0L1187.6 190.0L1170.0 172.3ZM1177.6 170.3L1195.1 152.7L1198.1 152.7L1215.7 170.3L1215.7 172.3L1198.1 190.0L1195.1 190.0L1177.6 172.3ZM1185.1 170.3L1202.7 152.7L1205.7 152.7L1223.2 170.3L1223.2 172.3L1205.7 190.0L1202.7 190.0L1185.1 172.3ZM1192.6 170.3L1210.2 152.7L1213.2 152.7L1230.7 170.3L1230.7 172.3L1213.2 190.0L1210.2 190.0L1192.6 172.3ZM1200.2 170.3L1217.7 152.7L1220.7 152.7L1238.3 170.3L1238.3 172.3L1220.7 190.0L1217.7 190.0L1200.2 172.3ZM1207.7 170.3L1225.3 152.7L1228.3 152.7L1245.8 170.3L1245.8 172.3L1228.3 190.0L1225.3 190.0L1207.7 172.3ZM1215.2 170.3L1232.8 152.7L1235.8 152.7L1253.3 170.3L1253.3 172.3L1235.8 190.0L1232.8 190.0L1215.2 172.3ZM1222.8 170.3L1240.3 152.7L1243.3 152.7L1260.9 170.3L1260.9 172.3L1243.3 190.0L1240.3 190.0L1222.8 172.3ZM1230.3 170.3L1247.9 152.7L1250.9 152.7L1268.4 170.3L1268.4 172.3L1250.9 190.0L1247.9 190.0L1230.3 172.3ZM1237.9 170.3L1255.4 152.7L1258.4 152.7L1276.0 170.3L1276.0 172.3L1258.4 190.0L1255.4 190.0L1237.9 172.3ZM1245.4 170.3L1262.9 152.7L1265.9 152.7L1283.5 170.3L1283.5 172.3L1265.9 190.0L1262.9 190.0L1245.4 172.3ZM1252.9 170.3L1270.5 152.7L1273.5 152.7L1291.0 170.3L1291.0 172.3L1273.5 190.0L1270.5 190.0L1252.9 172.3ZM1260.5 170.3L1278.0 152.7L1281.0 152.7L1298.6 170.3L1298.6 172.3L1281.0 190.0L1278.0 190.0L1260.5 172.3ZM1268.0 170.3L1285.5 152.7L1288.5 152.7L1306.1 170.3L1306.1 172.3L1288.5 190.0L1285.5 190.0L1268.0 172.3ZM1275.5 170.3L1293.1 152.7L1296.1 152.7L1313.6 170.3L1313.6 172.3L1296.1 190.0L1293.1 190.0L1275.5 172.3ZM1283.1 170.3L1300.6 152.7L1303.6 152.7L1321.2 170.3L1321.2 172.3L1303.6 190.0L1300.6 190.0L1283.1 172.3ZM1290.6 170.3L1308.1 152.7L1311.1 152.7L1328.7 170.3L1328.7 172.3L1311.1 190.0L1308.1 190.0L1290.6 172.3ZM1298.1 170.3L1315.7 152.7L1318.7 152.7L1336.2 170.3L1336.2 172.3L1318.7 190.0L1315.7 190.0L1298.1 172.3ZM1305.7 170.3L1323.2 152.7L1326.2 152.7L1343.8 170.3L1343.8 172.3L1326.2 190.0L1323.2 190.0L1305.7 172.3ZM1313.2 170.3L1330.8 152.7L1333.8 152.7L1351.3 170.3L1351.3 172.3L1333.8 190.0L1330.8 190.0L1313.2 172.3ZM1320.7 170.3L1338.3 152.7L1341.3 152.7L1358.8 170.3L1358.8 172.3L1341.3 190.0L1338.3 190.0L1320.7 172.3ZM1328.3 170.3L1345.8 152.7L1348.8 152.7L1366.4 170.3L1366.4 172.3L1348.8 190.0L1345.8 190.0L1328.3 172.3ZM1335.8 170.3L1353.4 152.7L1356.4 152.7L1373.9 170.3L1373.9 172.3L1356.4 190.0L1353.4 190.0L1335.8 172.3ZM1343.3 170.3L1360.9 152.7L1363.9 152.7L1381.4 170.3L1381.4 172.3L1363.9 190.0L1360.9 190.0L1343.3 172.3ZM1350.9 170.3L1368.4 152.7L1371.4 152.7L1389.0 170.3L1389.0 172.3L1371.4 190.0L1368.4 190.0L1350.9 172.3ZM1358.4 170.3L1376.0 152.7L1379.0 152.7L1396.5 170.3L1396.5 172.3L1379.0 190.0L1376.0 190.0L1358.4 172.3ZM1365.9 170.3L1383.5 152.7L1386.5 152.7L1404.0 170.3L1404.0 172.3L1386.5 190.0L1383.5 190.0L1365.9 172.3ZM1373.5 170.3L1391.0 152.7L1394.0 152.7L1411.6 170.3L1411.6 172.3L1394.0 190.0L1391.0 190.0L1373.5 172.3ZM1381.0 170.3L1398.6 152.7L1401.6 152.7L1419.1 170.3L1419.1 172.3L1401.6 190.0L1398.6 190.0L1381.0 172.3ZM1388.6 170.3L1406.1 152.7L1409.1 152.7L1426.7 170.3L1426.7 172.3L1409.1 190.0L1406.1 190.0L1388.6 172.3ZM1396.1 170.3L1413.6 152.7L1416.6 152.7L1434.2 170.3L1434.2 172.3L1416.6 190.0L1413.6 190.0L1396.1 172.3ZM1403.6 170.3L1421.2 152.7L1424.2 152.7L1441.7 170.3L1441.7 172.3L1424.2 190.0L1421.2 190.0L1403.6 172.3ZM1411.2 170.3L1428.7 152.7L1431.7 152.7L1449.3 170.3L1449.3 172.3L1431.7 190.0L1428.7 190.0L1411.2 172.3ZM1418.7 170.3L1436.2 152.7L1439.2 152.7L1456.8 170.3L1456.8 172.3L1439.2 190.0L1436.2 190.0L1418.7 172.3ZM1426.2 170.3L1443.8 152.7L1446.8 152.7L1464.3 170.3L1464.3 172.3L1446.8 190.0L1443.8 190.0L1426.2 172.3ZM1433.8 170.3L1451.3 152.7L1454.3 152.7L1471.9 170.3L1471.9 172.3L1454.3 190.0L1451.3 190.0L1433.8 172.3ZM1441.3 170.3L1458.8 152.7L1461.8 152.7L1479.4 170.3L1479.4 172.3L1461.8 190.0L1458.8 190.0L1441.3 172.3ZM1448.8 170.3L1466.4 152.7L1469.4 152.7L1486.9 170.3L1486.9 172.3L1469.4 190.0L1466.4 190.0L1448.8 172.3ZM1456.4 170.3L1473.9 152.7L1476.9 152.7L1494.5 170.3L1494.5 172.3L1476.9 190.0L1473.9 190.0L1456.4 172.3ZM1463.9 170.3L1481.5 152.7L1484.5 152.7L1502.0 170.3L1502.0 172.3L1484.5 190.0L1481.5 190.0L1463.9 172.3ZM1471.4 170.3L1489.0 152.7L1492.0 152.7L1509.5 170.3L1509.5 172.3L1492.0 190.0L1489.0 190.0L1471.4 172.3ZM1479.0 170.3L1496.5 152.7L1499.5 152.7L1517.1 170.3L1517.1 172.3L1499.5 190.0L1496.5 190.0L1479.0 172.3ZM1486.5 170.3L1504.1 152.7L1507.1 152.7L1524.6 170.3L1524.6 172.3L1507.1 190.0L1504.1 190.0L1486.5 172.3ZM1494.0 170.3L1511.6 152.7L1514.6 152.7L1532.1 170.3L1532.1 172.3L1514.6 190.0L1511.6 190.0L1494.0 172.3ZM1501.6 170.3L1519.1 152.7L1522.1 152.7L1539.7 170.3L1539.7 172.3L1522.1 190.0L1519.1 190.0L1501.6 172.3ZM1509.1 170.3L1526.7 152.7L1529.7 152.7L1547.2 170.3L1547.2 172.3L1529.7 190.0L1526.7 190.0L1509.1 172.3ZM1516.6 170.3L1534.2 152.7L1537.2 152.7L1554.7 170.3L1554.7 172.3L1537.2 190.0L1534.2 190.0L1516.6 172.3ZM1524.2 170.3L1541.7 152.7L1544.7 152.7L1562.3 170.3L1562.3 172.3L1544.7 190.0L1541.7 190.0L1524.2 172.3ZM1531.7 170.3L1549.3 152.7L1552.3 152.7L1569.8 170.3L1569.8 172.3L1552.3 190.0L1549.3 190.0L1531.7 172.3ZM1539.2 170.3L1556.8 152.7L1559.8 152.7L1577.3 170.3L1577.3 172.3L1559.8 190.0L1556.8 190.0L1539.2 172.3ZM1546.8 170.3L1564.3 152.7L1567.3 152.7L1584.9 170.3L1584.9 172.3L1567.3 190.0L1564.3 190.0L1546.8 172.3ZM1554.3 170.3L1571.9 152.7L1574.9 152.7L1592.4 170.3L1592.4 172.3L1574.9 190.0L1571.9 190.0L1554.3 172.3ZM1561.9 170.3L1579.4 152.7L1582.4 152.7L1600.0 170.3L1600.0 172.3L1582.4 190.0L1579.4 190.0L1561.9 172.3ZM1569.4 170.3L1586.9 152.7L1589.9 152.7L1607.5 170.3L1607.5 172.3L1589.9 190.0L1586.9 190.0L1569.4 172.3ZM1576.9 170.3L1594.5 152.7L1597.5 152.7L1615.0 170.3L1615.0 172.3L1597.5 190.0L1594.5 190.0L1576.9 172.3ZM1584.5 170.3L1602.0 152.7L1605.0 152.7L1622.6 170.3L1622.6 172.3L1605.0 190.0L1602.0 190.0L1584.5 172.3ZM1592.0 170.3L1609.5 152.7L1612.5 152.7L1630.1 170.3L1630.1 172.3L1612.5 190.0L1609.5 190.0L1592.0 172.3ZM1599.5 170.3L1617.1 152.7L1620.1 152.7L1637.6 170.3L1637.6 172.3L1620.1 190.0L1617.1 190.0L1599.5 172.3ZM1607.1 170.3L1624.6 152.7L1627.6 152.7L1645.2 170.3L1645.2 172.3L1627.6 190.0L1624.6 190.0L1607.1 172.3ZM1614.6 170.3L1632.2 152.7L1635.2 152.7L1652.7 170.3L1652.7 172.3L1635.2 190.0L1632.2 190.0L1614.6 172.3ZM1622.1 170.3L1639.7 152.7L1642.7 152.7L1660.2 170.3L1660.2 172.3L1642.7 190.0L1639.7 190.0L1622.1 172.3ZM1629.7 170.3L1647.2 152.7L1650.2 152.7L1667.8 170.3L1667.8 172.3L1650.2 190.0L1647.2 190.0L1629.7 172.3ZM1637.2 170.3L1654.8 152.7L1657.8 152.7L1675.3 170.3L1675.3 172.3L1657.8 190.0L1654.8 190.0L1637.2 172.3ZM1644.7 170.3L1662.3 152.7L1665.3 152.7L1682.8 170.3L1682.8 172.3L1665.3 190.0L1662.3 190.0L1644.7 172.3ZM1652.3 170.3L1669.8 152.7L1672.8 152.7L1690.4 170.3L1690.4 172.3L1672.8 190.0L1669.8 190.0L1652.3 172.3ZM1659.8 170.3L1677.4 152.7L1680.4 152.7L1697.9 170.3L1697.9 172.3L1680.4 190.0L1677.4 190.0L1659.8 172.3ZM1667.3 170.3L1684.9 152.7L1687.9 152.7L1705.4 170.3L1705.4 172.3L1687.9 190.0L1684.9 190.0L1667.3 172.3ZM1674.9 170.3L1692.4 152.7L1695.4 152.7L1713.0 170.3L1713.0 172.3L1695.4 190.0L1692.4 190.0L1674.9 172.3ZM1682.4 170.3L1700.0 152.7L1703.0 152.7L1720.5 170.3L1720.5 172.3L1703.0 190.0L1700.0 190.0L1682.4 172.3ZM1690.0 170.3L1707.5 152.7L1710.5 152.7L1728.0 170.3L1728.0 172.3L1710.5 190.0L1707.5 190.0L1690.0 172.3ZM1697.5 170.3L1715.0 152.7L1718.0 152.7L1735.6 170.3L1735.6 172.3L1718.0 190.0L1715.0 190.0L1697.5 172.3ZM1705.0 170.3L1722.6 152.7L1725.6 152.7L1743.1 170.3L1743.1 172.3L1725.6 190.0L1722.6 190.0L1705.0 172.3ZM1712.6 170.3L1730.1 152.7L1733.1 152.7L1750.7 170.3L1750.7 172.3L1733.1 190.0L1730.1 190.0L1712.6 172.3ZM1720.1 170.3L1737.6 152.7L1740.6 152.7L1758.2 170.3L1758.2 172.3L1740.6 190.0L1737.6 190.0L1720.1 172.3ZM1727.6 170.3L1745.2 152.7L1748.2 152.7L1765.7 170.3L1765.7 172.3L1748.2 190.0L1745.2 190.0L1727.6 172.3ZM1735.2 170.3L1752.7 152.7L1755.7 152.7L1773.3 170.3L1773.3 172.3L1755.7 190.0L1752.7 190.0L1735.2 172.3ZM1742.7 170.3L1760.2 152.7L1763.2 152.7L1780.8 170.3L1780.8 172.3L1763.2 190.0L1760.2 190.0L1742.7 172.3ZM1750.2 170.3L1767.8 152.7L1770.8 152.7L1788.3 170.3L1788.3 172.3L1770.8 190.0L1767.8 190.0L1750.2 172.3ZM1757.8 170.3L1775.3 152.7L1778.3 152.7L1795.9 170.3L1795.9 172.3L1778.3 190.0L1775.3 190.0L1757.8 172.3ZM1765.3 170.3L1782.9 152.7L1785.9 152.7L1803.4 170.3L1803.4 172.3L1785.9 190.0L1782.9 190.0L1765.3 172.3ZM1772.8 170.3L1790.4 152.7L1793.4 152.7L1810.9 170.3L1810.9 172.3L1793.4 190.0L1790.4 190.0L1772.8 172.3ZM1780.4 170.3L1797.9 152.7L1800.9 152.7L1818.5 170.3L1818.5 172.3L1800.9 190.0L1797.9 190.0L1780.4 172.3ZM1787.9 170.3L1805.5 152.7L1808.5 152.7L1826.0 170.3L1826.0 172.3L1808.5 190.0L1805.5 190.0L1787.9 172.3ZM1795.4 170.3L1813.0 152.7L1816.0 152.7L1833.5 170.3L1833.5 172.3L1816.0 190.0L1813.0 190.0L1795.4 172.3ZM1803.0 170.3L1820.5 152.7L1823.5 152.7L1841.1 170.3L1841.1 172.3L1823.5 190.0L1820.5 190.0L1803.0 172.3ZM1810.5 170.3L1828.1 152.7L1831.1 152.7L1848.6 170.3L1848.6 172.3L1831.1 190.0L1828.1 190.0L1810.5 172.3ZM1818.0 170.3L1835.6 152.7L1838.6 152.7L1856.1 170.3L1856.1 172.3L1838.6 190.0L1835.6 190.0L1818.0 172.3ZM1825.6 170.3L1843.1 152.7L1846.1 152.7L1863.7 170.3L1863.7 172.3L1846.1 190.0L1843.1 190.0L1825.6 172.3ZM1833.1 170.3L1850.7 152.7L1853.7 152.7L1871.2 170.3L1871.2 172.3L1853.7 190.0L1850.7 190.0L1833.1 172.3ZM1840.7 170.3L1858.2 152.7L1861.2 152.7L1878.8 170.3L1878.8 172.3L1861.2 190.0L1858.2 190.0L1840.7 172.3ZM1848.2 170.3L1865.7 152.7L1868.7 152.7L1886.3 170.3L1886.3 172.3L1868.7 190.0L1865.7 190.0L1848.2 172.3ZM1855.7 170.3L1873.3 152.7L1876.3 152.7L1893.8 170.3L1893.8 172.3L1876.3 190.0L1873.3 190.0L1855.7 172.3ZM1863.3 170.3L1880.8 152.7L1883.8 152.7L1901.4 170.3L1901.4 172.3L1883.8 190.0L1880.8 190.0L1863.3 172.3ZM1870.8 170.3L1888.3 152.7L1891.3 152.7L1908.9 170.3L1908.9 172.3L1891.3 190.0L1888.3 190.0L1870.8 172.3ZM1878.3 170.3L1895.9 152.7L1898.9 152.7L1916.4 170.3L1916.4 172.3L1898.9 190.0L1895.9 190.0L1878.3 172.3ZM1885.9 170.3L1903.4 152.7L1906.4 152.7L1924.0 170.3L1924.0 172.3L1906.4 190.0L1903.4 190.0L1885.9 172.3ZM1893.4 170.3L1910.9 152.7L1913.9 152.7L1931.5 170.3L1931.5 172.3L1913.9 190.0L1910.9 190.0L1893.4 172.3ZM1900.9 170.3L1918.5 152.7L1921.5 152.7L1939.0 170.3L1939.0 172.3L1921.5 190.0L1918.5 190.0L1900.9 172.3ZM1908.5 170.3L1926.0 152.7L1929.0 152.7L1946.6 170.3L1946.6 172.3L1929.0 190.0L1926.0 190.0L1908.5 172.3ZM1916.0 170.3L1933.6 152.7L1936.6 152.7L1954.1 170.3L1954.1 172.3L1936.6 190.0L1933.6 190.0L1916.0 172.3Z"/>
</g>
<g id="vlines" stroke="#000" stroke-width="3">
<line x1="356.5" y1="108" x2="356.5" y2="1508"/>
<line x1="428.5" y1="108" x2="428.5" y2="1508"/>
<line x1="653.5" y1="108" x2="653.5" y2="1508"/>
<line x1="804.5" y1="108" x2="804.5" y2="1508"/>
<line x1="1031.5" y1="103" x2="1031.5" y2="1508"/>
<line x1="1182.5" y1="102" x2="1182.5" y2="1508"/>
<line x1="1407.5" y1="108" x2="1407.5" y2="1508"/>
<line x1="1558.5" y1="108" x2="1558.5" y2="1508"/>
<line x1="1784.5" y1="108" x2="1784.5" y2="1508"/>
<line x1="1932.5" y1="108" x2="1932.5" y2="1508"/>
</g>
<rect x="278" y="108" width="1733" height="1396" fill="none" stroke="#000" stroke-width="8" stroke-linejoin="miter"/>
<g stroke="#000" fill="#000" stroke-linejoin="round">
<line x1="441.3" y1="853.3" x2="788.0" y2="853.3" stroke-width="11"/>
<path stroke-width="8.4" d="M429.9 853.3L447.5 844.5L447.5 862.1Z"/>
<path stroke-width="8.4" d="M799.4 853.3L781.8 844.5L781.8 862.1Z"/>
</g>
<g stroke="#000" fill="#000" stroke-linejoin="round">
<line x1="819.3" y1="852.6" x2="1167.0" y2="852.6" stroke-width="11"/>
<path stroke-width="8.4" d="M807.9 852.6L825.5 843.8L825.5 861.4Z"/>
<path stroke-width="8.4" d="M1178.4 852.6L1160.8 843.8L1160.8 861.4Z"/>
</g>
<g stroke="#000" fill="#000" stroke-linejoin="round">
<line x1="1197.2" y1="851.8" x2="1542.9" y2="851.8" stroke-width="11"/>
<path stroke-width="8.4" d="M1185.8 851.8L1203.4 843.0L1203.4 860.6Z"/>
<path stroke-width="8.4" d="M1554.3 851.8L1536.7 843.0L1536.7 860.6Z"/>
</g>
<g stroke="#000" fill="#000" stroke-linejoin="round">
<line x1="1573.7" y1="851.8" x2="1920.2" y2="851.8" stroke-width="11"/>
<path stroke-width="8.4" d="M1562.3 851.8L1579.9 843.0L1579.9 860.6Z"/>
<path stroke-width="8.4" d="M1931.6 851.8L1914.0 843.0L1914.0 860.6Z"/>
</g>
<g stroke="#000" fill="#000" stroke-linejoin="round">
<line x1="439.6" y1="995.9" x2="644.4" y2="995.9" stroke-width="5.6"/>
<path stroke-width="4.4" d="M432.5 995.9L443.6 990.1L443.6 1001.7Z"/>
<path stroke-width="4.4" d="M651.5 995.9L640.4 990.1L640.4 1001.7Z"/>
</g>
<g stroke="#000" fill="#000" stroke-linejoin="round">
<line x1="664.7" y1="995.9" x2="792.7" y2="995.9" stroke-width="5.6"/>
<path stroke-width="4.4" d="M657.6 995.9L668.7 990.1L668.7 1001.7Z"/>
<path stroke-width="4.4" d="M799.8 995.9L788.7 990.1L788.7 1001.7Z"/>
</g>
<text transform="translate(444.1 940.8) scale(1 1.03)" font-size="56">Cycle 1</text>
<text transform="translate(820.9 940.8) scale(1 1.03)" font-size="56">Cycle 2</text>
<text transform="translate(1197.8 940.8) scale(1 1.03)" font-size="56">Cycle 3</text>
<text transform="translate(1575.8 940.8) scale(1 1.03)" font-size="56">Cycle 4</text>
<rect x="610.73" y="933.65" width="11.43" height="8.15" fill="#c0c0c0"/>
<rect x="629.85" y="933.65" width="10.14" height="8.15" fill="#c0c0c0"/>
<text transform="translate(505.9 1037.8) scale(1 1.04)" font-size="44.5">H</text>
<text transform="translate(535.9 1055.0) scale(1 1.04)" font-size="27">2</text>
<text transform="translate(550.9 1037.8) scale(1 1.04)" font-size="44.5">S</text>
<text transform="translate(434.7 1095.5) scale(1 1.03)" font-size="45.6">(500 ppm)</text>
<text x="514.5" y="1148.5" font-size="43">on</text>
<text x="703.5" y="1148.5" font-size="42.5">off</text>
<g id="legend">
<rect x="1598.5" y="1106.7" width="297" height="278.5" fill="#fff" stroke="#000" stroke-width="3"/>
<line x1="1605.8" y1="1150" x2="1710.2" y2="1150" stroke="#000" stroke-width="7.8" stroke-linecap="round"/>
<path fill="#000" d="M1638.2 1150L1657.7 1130.9L1677.2 1150L1657.7 1169.1Z"/>
<line x1="1605.8" y1="1241.4" x2="1710.2" y2="1241.4" stroke="#ff0000" stroke-width="7.8" stroke-linecap="round"/>
<circle cx="1657.7" cy="1241.4" r="15" fill="#ff0000"/>
<line x1="1605.8" y1="1332" x2="1710.2" y2="1332" stroke="#0000ff" stroke-width="7.8" stroke-linecap="round"/>
<path fill="#0000ff" d="M1638.2 1332L1657.7 1312.9L1677.2 1332L1657.7 1351.1Z"/>
<text transform="translate(1726.9 1166.4) scale(1 1.05)" font-size="57">SCH</text>
<text transform="translate(1843.9 1188.5) scale(1 1.05)" font-size="33.5">4</text>
<text transform="translate(1726.5 1256.3) scale(1 1.04)" font-size="57.2">Conv.</text>
<text transform="translate(1726.9 1348.0) scale(1 1.05)" font-size="57.2">SCO</text>
<text transform="translate(1847.0 1372.3) scale(1 1.05)" font-size="33.5">2</text>
</g>
<g id="xlabels">
<text transform="translate(357.2 1598.0) scale(1 1.04)" font-size="65" text-anchor="middle">0</text>
<text transform="translate(507.9 1598.0) scale(1 1.04)" font-size="65" text-anchor="middle">10</text>
<rect x="473.65" y="1589.62" width="13.27" height="9.38" fill="#fff"/>
<rect x="495.84" y="1589.62" width="11.77" height="9.38" fill="#fff"/>
<text transform="translate(658.6 1598.0) scale(1 1.04)" font-size="65" text-anchor="middle">20</text>
<text transform="translate(809.3 1598.0) scale(1 1.04)" font-size="65" text-anchor="middle">30</text>
<text transform="translate(960.0 1598.0) scale(1 1.04)" font-size="65" text-anchor="middle">40</text>
<text transform="translate(1110.7 1598.0) scale(1 1.04)" font-size="65" text-anchor="middle">50</text>
<text transform="translate(1261.4 1598.0) scale(1 1.04)" font-size="65" text-anchor="middle">60</text>
<text transform="translate(1412.1 1598.0) scale(1 1.04)" font-size="65" text-anchor="middle">70</text>
<text transform="translate(1562.8 1598.0) scale(1 1.04)" font-size="65" text-anchor="middle">80</text>
<text transform="translate(1713.5 1598.0) scale(1 1.04)" font-size="65" text-anchor="middle">90</text>
<text transform="translate(1864.2 1598.0) scale(1 1.04)" font-size="65" text-anchor="middle">100</text>
<rect x="1811.88" y="1589.62" width="13.27" height="9.38" fill="#fff"/>
<rect x="1834.06" y="1589.62" width="11.77" height="9.38" fill="#fff"/>
<text transform="translate(2014.9 1598.0) scale(1 1.04)" font-size="65" text-anchor="middle">110</text>
<rect x="1964.37" y="1589.62" width="13.27" height="9.38" fill="#fff"/>
<rect x="1986.56" y="1589.62" width="11.77" height="9.38" fill="#fff"/>
<rect x="1996.94" y="1589.62" width="13.27" height="9.38" fill="#fff"/>
<rect x="2019.12" y="1589.62" width="11.77" height="9.38" fill="#fff"/>
</g>
<g id="ylabels">
<text transform="translate(250.4 1460.7) scale(1 1.04)" font-size="65" text-anchor="end">0</text>
<text transform="translate(250.4 1333.7) scale(1 1.04)" font-size="65" text-anchor="end">10</text>
<rect x="180.00" y="1325.30" width="13.27" height="9.38" fill="#fff"/>
<rect x="202.19" y="1325.30" width="11.77" height="9.38" fill="#fff"/>
<text transform="translate(250.4 1206.7) scale(1 1.04)" font-size="65" text-anchor="end">20</text>
<text transform="translate(250.4 1079.6) scale(1 1.04)" font-size="65" text-anchor="end">30</text>
<text transform="translate(250.4 952.6) scale(1 1.04)" font-size="65" text-anchor="end">40</text>
<text transform="translate(250.4 825.6) scale(1 1.04)" font-size="65" text-anchor="end">50</text>
<text transform="translate(250.4 698.6) scale(1 1.04)" font-size="65" text-anchor="end">60</text>
<text transform="translate(250.4 571.6) scale(1 1.04)" font-size="65" text-anchor="end">70</text>
<text transform="translate(250.4 444.5) scale(1 1.04)" font-size="65" text-anchor="end">80</text>
<text transform="translate(250.4 317.5) scale(1 1.04)" font-size="65" text-anchor="end">90</text>
<text transform="translate(250.4 190.5) scale(1 1.04)" font-size="65" text-anchor="end">100</text>
<rect x="143.85" y="182.12" width="13.27" height="9.38" fill="#fff"/>
<rect x="166.04" y="182.12" width="11.77" height="9.38" fill="#fff"/>
</g>
<text transform="translate(991.9 1685.6) scale(1 1.02)" font-size="79.8">Time (h)</text>
<text transform="translate(87 804.5) rotate(-90) scale(1 1.02)" font-size="81.4" text-anchor="middle">CO conversion (%)</text>
<g id="title">
<text transform="translate(999.4 81.0) scale(1 1.05)" font-size="63.8">GHSV </text>
<text transform="translate(1195.6 81.0) scale(1 1.05)" font-size="63.8">= </text>
<text transform="translate(1251.8 81.0) scale(1 1.05)" font-size="63.8">46,000 </text>
<text transform="translate(1461.6 81.0) scale(1 1.05)" font-size="63.8">h</text>
<text transform="translate(1499.8 44.4) scale(1 1.04)" font-size="37">-1</text>
<rect x="1513.21" y="39.63" width="7.55" height="5.77" fill="#fff"/>
<rect x="1525.83" y="39.63" width="6.70" height="5.77" fill="#fff"/>
<text transform="translate(1531.5 81.0) scale(1 1.05)" font-size="63.8">, </text>
<text transform="translate(1568.6 81.0) scale(1 1.05)" font-size="63.8">Temp. </text>
<text transform="translate(1770.1 81.0) scale(1 1.05)" font-size="63.8">= </text>
<text transform="translate(1825.6 81.0) scale(1 1.05)" font-size="63.8">400 </text>
<text transform="translate(1946.5 44.4) scale(1.18 1.0)" font-size="38" font-weight="normal">o</text>
<text transform="translate(1969.8 81.0) scale(1 1.05)" font-size="63.8">C</text>
</g>
</svg>
</body></html>
